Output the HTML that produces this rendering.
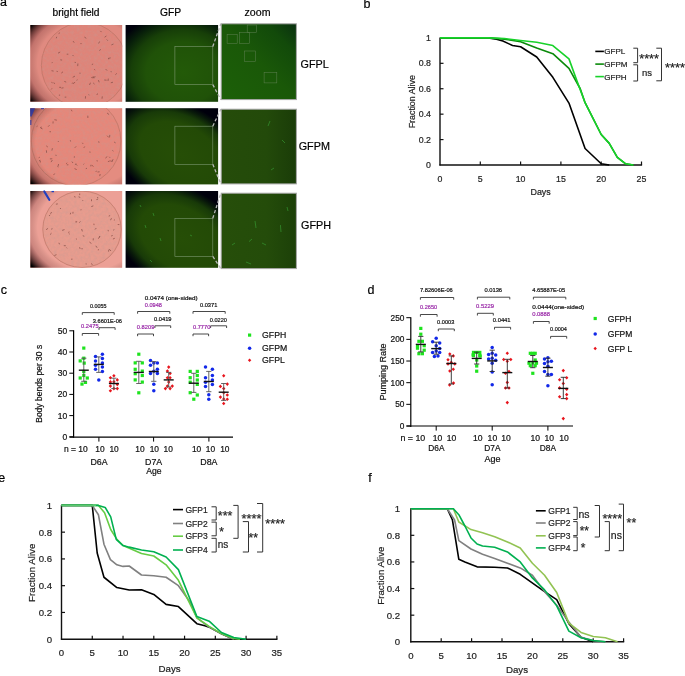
<!DOCTYPE html>
<html><head><meta charset="utf-8"><style>
html,body{margin:0;padding:0;background:#fff;}
svg{display:block;font-family:"Liberation Sans", sans-serif;will-change:transform;}
</style></head><body>
<svg width="685" height="676" viewBox="0 0 685 676">
<defs>
<filter id="tex" x="0" y="0" width="1" height="1"><feTurbulence type="fractalNoise" baseFrequency="0.35" numOctaves="2" seed="3"/><feColorMatrix type="matrix" values="0 0 0 0 0.55  0 0 0 0 0.33  0 0 0 0 0.3  0 0 0 1.4 -0.5"/><feComposite in2="SourceGraphic" operator="in"/></filter>
<radialGradient id="bfv0" cx="0.64" cy="0.5" r="0.8">
 <stop offset="0.7" stop-color="#000" stop-opacity="0"/><stop offset="0.82" stop-color="#400c14" stop-opacity="0.18"/><stop offset="0.92" stop-color="#200608" stop-opacity="0.62"/><stop offset="1" stop-color="#000" stop-opacity="1"/>
</radialGradient>
<radialGradient id="bfv1" cx="0.62" cy="0.46" r="0.8">
 <stop offset="0.7" stop-color="#000" stop-opacity="0"/><stop offset="0.82" stop-color="#400c14" stop-opacity="0.18"/><stop offset="0.92" stop-color="#200608" stop-opacity="0.62"/><stop offset="1" stop-color="#000" stop-opacity="1"/>
</radialGradient>
<radialGradient id="bfv2" cx="0.64" cy="0.47" r="0.8">
 <stop offset="0.7" stop-color="#000" stop-opacity="0"/><stop offset="0.82" stop-color="#400c14" stop-opacity="0.18"/><stop offset="0.92" stop-color="#200608" stop-opacity="0.62"/><stop offset="1" stop-color="#000" stop-opacity="1"/>
</radialGradient>
<radialGradient id="gfp0" cx="0.62" cy="0.62" r="0.8">
 <stop offset="0" stop-color="#235a08"/><stop offset="0.5" stop-color="#205208"/><stop offset="0.7" stop-color="#173f08"/><stop offset="0.85" stop-color="#08200a"/><stop offset="1" stop-color="#00000c"/>
</radialGradient>
<radialGradient id="gfp1" cx="0" cy="0" r="1" gradientTransform="translate(0.6 0.62) rotate(45) scale(0.86 0.6)">
 <stop offset="0" stop-color="#264e06"/><stop offset="0.6" stop-color="#234a06"/><stop offset="0.78" stop-color="#183a08"/><stop offset="0.9" stop-color="#08180a"/><stop offset="1" stop-color="#00000c"/>
</radialGradient>
<radialGradient id="gfp2" cx="0" cy="0" r="1" gradientTransform="translate(0.6 0.62) rotate(45) scale(0.86 0.6)">
 <stop offset="0" stop-color="#264e06"/><stop offset="0.6" stop-color="#234a06"/><stop offset="0.78" stop-color="#183a08"/><stop offset="0.9" stop-color="#08180a"/><stop offset="1" stop-color="#00000c"/>
</radialGradient>
<linearGradient id="zm0" x1="0" y1="1" x2="1" y2="0">
 <stop offset="0" stop-color="#1c6008"/><stop offset="0.5" stop-color="#1a5808"/><stop offset="0.8" stop-color="#124a0a"/><stop offset="1" stop-color="#0a3010"/>
</linearGradient>
<linearGradient id="zm1" x1="0" y1="0.5" x2="1" y2="0.5">
 <stop offset="0" stop-color="#254c0a"/><stop offset="0.6" stop-color="#234a0a"/><stop offset="1" stop-color="#1a3c08"/>
</linearGradient>
<linearGradient id="zm2" x1="0" y1="0.5" x2="1" y2="0.5">
 <stop offset="0" stop-color="#264e0a"/><stop offset="0.6" stop-color="#244c0a"/><stop offset="1" stop-color="#1c4008"/>
</linearGradient>
</defs>
<text x="3.40" y="6.47" font-size="12.5" text-anchor="middle" fill="#000" stroke="#000" stroke-width="0.2" >a</text>
<text x="76.00" y="16.20" font-size="10.2" text-anchor="middle" fill="#000" stroke="#000" stroke-width="0.2" >bright field</text>
<text x="170.50" y="16.40" font-size="10.3" text-anchor="middle" fill="#000" stroke="#000" stroke-width="0.2" >GFP</text>
<text x="257.50" y="16.40" font-size="10.6" text-anchor="middle" fill="#000" stroke="#000" stroke-width="0.2" >zoom</text>
<rect x="30.2" y="25" width="92" height="76.80" fill="#e08a80"/>
<clipPath id="cbf0"><rect x="30.2" y="25" width="92" height="76.80"/></clipPath>
<g clip-path="url(#cbf0)">
<ellipse cx="84.4" cy="65.3" rx="43" ry="43" fill="#df8479" stroke="#b87060" stroke-width="0.9" stroke-opacity="0.7"/>
<ellipse cx="84.4" cy="65.3" rx="43" ry="43" fill="#f09a8c" filter="url(#tex)" opacity="0.5"/>
<line x1="77.3" y1="79.5" x2="76.8" y2="80.5" stroke="#8a5048" stroke-width="1.0" opacity="0.75"/>
<line x1="60.3" y1="59.8" x2="62.1" y2="60.1" stroke="#8a5048" stroke-width="1.0" opacity="0.75"/>
<line x1="110.6" y1="71.6" x2="111.7" y2="71.8" stroke="#8a5048" stroke-width="1.0" opacity="0.75"/>
<line x1="51.4" y1="82.3" x2="52.6" y2="82.8" stroke="#8a5048" stroke-width="1.0" opacity="0.75"/>
<line x1="56.7" y1="36.8" x2="56.3" y2="38.3" stroke="#8a5048" stroke-width="1.0" opacity="0.75"/>
<line x1="93.1" y1="64.0" x2="91.8" y2="64.6" stroke="#8a5048" stroke-width="1.0" opacity="0.75"/>
<line x1="93.0" y1="76.3" x2="94.3" y2="78.2" stroke="#8a5048" stroke-width="1.0" opacity="0.75"/>
<line x1="97.5" y1="93.5" x2="96.9" y2="95.0" stroke="#8a5048" stroke-width="1.0" opacity="0.75"/>
<line x1="74.6" y1="62.3" x2="75.9" y2="62.5" stroke="#8a5048" stroke-width="1.0" opacity="0.75"/>
<line x1="73.1" y1="41.1" x2="74.2" y2="42.7" stroke="#8a5048" stroke-width="1.0" opacity="0.75"/>
<line x1="63.0" y1="71.8" x2="61.3" y2="73.1" stroke="#8a5048" stroke-width="1.0" opacity="0.75"/>
<line x1="85.5" y1="96.2" x2="85.4" y2="98.6" stroke="#8a5048" stroke-width="1.0" opacity="0.75"/>
<line x1="81.6" y1="43.6" x2="80.4" y2="43.6" stroke="#8a5048" stroke-width="1.0" opacity="0.75"/>
<line x1="53.5" y1="82.8" x2="55.0" y2="83.6" stroke="#8a5048" stroke-width="1.0" opacity="0.75"/>
<line x1="116.8" y1="73.4" x2="115.4" y2="74.7" stroke="#8a5048" stroke-width="1.0" opacity="0.75"/>
<line x1="100.6" y1="49.2" x2="99.5" y2="50.8" stroke="#8a5048" stroke-width="1.0" opacity="0.75"/>
<line x1="60.2" y1="52.0" x2="58.0" y2="53.2" stroke="#8a5048" stroke-width="1.0" opacity="0.75"/>
<line x1="51.5" y1="70.7" x2="53.6" y2="71.1" stroke="#8a5048" stroke-width="1.0" opacity="0.75"/>
<line x1="59.9" y1="32.8" x2="58.6" y2="33.6" stroke="#8a5048" stroke-width="1.0" opacity="0.75"/>
<line x1="59.2" y1="87.3" x2="61.0" y2="87.4" stroke="#8a5048" stroke-width="1.0" opacity="0.75"/>
<line x1="91.3" y1="77.5" x2="93.5" y2="77.9" stroke="#8a5048" stroke-width="1.0" opacity="0.75"/>
<line x1="98.4" y1="80.1" x2="99.2" y2="82.3" stroke="#8a5048" stroke-width="1.0" opacity="0.75"/>
<line x1="108.3" y1="78.6" x2="108.0" y2="81.0" stroke="#8a5048" stroke-width="1.0" opacity="0.75"/>
<line x1="100.4" y1="30.9" x2="101.5" y2="32.1" stroke="#8a5048" stroke-width="1.0" opacity="0.75"/>
<line x1="60.1" y1="95.1" x2="58.9" y2="95.2" stroke="#8a5048" stroke-width="1.0" opacity="0.75"/>
<line x1="93.2" y1="82.9" x2="94.5" y2="84.1" stroke="#8a5048" stroke-width="1.0" opacity="0.75"/>
<line x1="66.7" y1="54.2" x2="68.3" y2="54.2" stroke="#8a5048" stroke-width="1.0" opacity="0.75"/>
<line x1="63.5" y1="87.8" x2="61.4" y2="88.1" stroke="#8a5048" stroke-width="1.0" opacity="0.75"/>
<line x1="52.4" y1="62.2" x2="51.9" y2="63.1" stroke="#8a5048" stroke-width="1.0" opacity="0.75"/>
<line x1="113.5" y1="44.0" x2="111.4" y2="44.9" stroke="#8a5048" stroke-width="1.0" opacity="0.75"/>
<line x1="64.3" y1="81.4" x2="66.2" y2="82.1" stroke="#8a5048" stroke-width="1.0" opacity="0.75"/>
<line x1="94.2" y1="69.3" x2="95.2" y2="70.1" stroke="#8a5048" stroke-width="1.0" opacity="0.75"/>
<line x1="79.4" y1="73.2" x2="80.6" y2="73.2" stroke="#8a5048" stroke-width="1.0" opacity="0.75"/>
<line x1="104.2" y1="80.0" x2="106.6" y2="80.2" stroke="#8a5048" stroke-width="1.0" opacity="0.75"/>
<line x1="72.5" y1="55.0" x2="73.6" y2="56.1" stroke="#8a5048" stroke-width="1.0" opacity="0.75"/>
<line x1="75.0" y1="76.1" x2="72.7" y2="77.3" stroke="#8a5048" stroke-width="1.0" opacity="0.75"/>
<line x1="56.6" y1="71.3" x2="57.8" y2="71.6" stroke="#8a5048" stroke-width="1.0" opacity="0.75"/>
<line x1="72.8" y1="82.9" x2="71.8" y2="83.5" stroke="#8a5048" stroke-width="1.0" opacity="0.75"/>
<line x1="123.8" y1="71.1" x2="123.7" y2="72.3" stroke="#8a5048" stroke-width="1.0" opacity="0.75"/>
<line x1="77.9" y1="63.5" x2="77.7" y2="66.1" stroke="#8a5048" stroke-width="1.0" opacity="0.75"/>
<line x1="106.7" y1="39.5" x2="107.8" y2="40.7" stroke="#8a5048" stroke-width="1.0" opacity="0.75"/>
<line x1="102.3" y1="96.4" x2="102.0" y2="98.7" stroke="#8a5048" stroke-width="1.0" opacity="0.75"/>
<line x1="75.1" y1="82.2" x2="73.0" y2="83.7" stroke="#8a5048" stroke-width="1.0" opacity="0.75"/>
<line x1="106.4" y1="36.0" x2="104.6" y2="37.2" stroke="#8a5048" stroke-width="1.0" opacity="0.75"/>
<line x1="88.7" y1="94.4" x2="89.1" y2="95.3" stroke="#8a5048" stroke-width="1.0" opacity="0.75"/>
<line x1="105.7" y1="69.1" x2="107.1" y2="70.6" stroke="#8a5048" stroke-width="1.0" opacity="0.75"/>
<line x1="110.7" y1="57.9" x2="108.2" y2="58.4" stroke="#8a5048" stroke-width="1.0" opacity="0.75"/>
<line x1="108.1" y1="58.4" x2="109.1" y2="59.3" stroke="#8a5048" stroke-width="1.0" opacity="0.75"/>
<line x1="90.5" y1="82.7" x2="89.5" y2="85.0" stroke="#8a5048" stroke-width="1.0" opacity="0.75"/>
<line x1="99.6" y1="41.5" x2="98.6" y2="43.5" stroke="#8a5048" stroke-width="1.0" opacity="0.75"/>
<line x1="113.0" y1="82.2" x2="110.8" y2="82.8" stroke="#8a5048" stroke-width="1.0" opacity="0.75"/>
<line x1="84.4" y1="37.1" x2="86.3" y2="38.3" stroke="#8a5048" stroke-width="1.0" opacity="0.75"/>
<line x1="66.3" y1="97.1" x2="64.7" y2="97.2" stroke="#8a5048" stroke-width="1.0" opacity="0.75"/>
<line x1="52.0" y1="88.4" x2="51.2" y2="89.4" stroke="#8a5048" stroke-width="1.0" opacity="0.75"/>
<line x1="95.5" y1="76.7" x2="93.3" y2="77.3" stroke="#8a5048" stroke-width="1.0" opacity="0.75"/>
<rect x="30.2" y="25" width="92" height="76.80" fill="url(#bfv0)"/>
</g>
<rect x="125.6" y="25" width="92.5" height="76.80" fill="url(#gfp0)"/>
<rect x="174.9" y="46.50" width="37.9" height="38.10" fill="none" stroke="#7c9870" stroke-width="0.6"/>
<line x1="212.8" y1="46.50" x2="220.8" y2="23.80" stroke="#b8b8b8" stroke-width="1.3" stroke-dasharray="3.2,2.2"/>
<line x1="212.8" y1="84.60" x2="220.8" y2="99.60" stroke="#b8b8b8" stroke-width="1.3" stroke-dasharray="3.2,2.2"/>
<rect x="221.2" y="23.80" width="75.2" height="75.80" fill="url(#zm0)" stroke="#a8a8a8" stroke-width="1"/>
<text x="314.70" y="68.47" font-size="10.8" text-anchor="middle" fill="#000" stroke="#000" stroke-width="0.2" >GFPL</text>
<rect x="30.2" y="108.2" width="92" height="76.20" fill="#e48c80"/>
<clipPath id="cbf1"><rect x="30.2" y="108.2" width="92" height="76.20"/></clipPath>
<g clip-path="url(#cbf1)">
<ellipse cx="76.1" cy="141.1" rx="44.8" ry="44.8" fill="#e6877a" stroke="#b87060" stroke-width="0.9" stroke-opacity="0.7"/>
<ellipse cx="76.1" cy="141.1" rx="44.8" ry="44.8" fill="#f09a8c" filter="url(#tex)" opacity="0.5"/>
<line x1="99.6" y1="171.8" x2="97.5" y2="172.0" stroke="#8a5048" stroke-width="1.0" opacity="0.75"/>
<line x1="57.5" y1="166.6" x2="58.4" y2="167.0" stroke="#8a5048" stroke-width="1.0" opacity="0.75"/>
<line x1="109.8" y1="134.9" x2="109.6" y2="137.3" stroke="#8a5048" stroke-width="1.0" opacity="0.75"/>
<line x1="39.8" y1="157.2" x2="38.6" y2="157.8" stroke="#8a5048" stroke-width="1.0" opacity="0.75"/>
<line x1="75.8" y1="164.1" x2="77.2" y2="165.5" stroke="#8a5048" stroke-width="1.0" opacity="0.75"/>
<line x1="74.5" y1="168.6" x2="76.7" y2="169.6" stroke="#8a5048" stroke-width="1.0" opacity="0.75"/>
<line x1="58.6" y1="164.0" x2="58.0" y2="166.4" stroke="#8a5048" stroke-width="1.0" opacity="0.75"/>
<line x1="40.3" y1="160.6" x2="40.3" y2="162.5" stroke="#8a5048" stroke-width="1.0" opacity="0.75"/>
<line x1="70.3" y1="140.2" x2="70.6" y2="141.5" stroke="#8a5048" stroke-width="1.0" opacity="0.75"/>
<line x1="114.1" y1="142.0" x2="115.6" y2="142.9" stroke="#8a5048" stroke-width="1.0" opacity="0.75"/>
<line x1="71.2" y1="109.7" x2="72.1" y2="111.3" stroke="#8a5048" stroke-width="1.0" opacity="0.75"/>
<line x1="40.7" y1="128.2" x2="42.5" y2="128.9" stroke="#8a5048" stroke-width="1.0" opacity="0.75"/>
<line x1="76.3" y1="163.5" x2="74.9" y2="164.7" stroke="#8a5048" stroke-width="1.0" opacity="0.75"/>
<line x1="41.8" y1="127.1" x2="40.1" y2="127.5" stroke="#8a5048" stroke-width="1.0" opacity="0.75"/>
<line x1="53.1" y1="121.4" x2="53.0" y2="123.5" stroke="#8a5048" stroke-width="1.0" opacity="0.75"/>
<line x1="46.4" y1="150.3" x2="46.6" y2="152.8" stroke="#8a5048" stroke-width="1.0" opacity="0.75"/>
<line x1="63.6" y1="103.3" x2="62.2" y2="103.5" stroke="#8a5048" stroke-width="1.0" opacity="0.75"/>
<line x1="37.6" y1="126.0" x2="36.6" y2="126.6" stroke="#8a5048" stroke-width="1.0" opacity="0.75"/>
<line x1="96.5" y1="160.7" x2="97.9" y2="161.0" stroke="#8a5048" stroke-width="1.0" opacity="0.75"/>
<line x1="107.3" y1="156.5" x2="105.4" y2="158.1" stroke="#8a5048" stroke-width="1.0" opacity="0.75"/>
<line x1="96.4" y1="170.8" x2="95.9" y2="171.9" stroke="#8a5048" stroke-width="1.0" opacity="0.75"/>
<line x1="107.1" y1="113.0" x2="109.1" y2="114.6" stroke="#8a5048" stroke-width="1.0" opacity="0.75"/>
<line x1="52.3" y1="158.8" x2="49.9" y2="158.9" stroke="#8a5048" stroke-width="1.0" opacity="0.75"/>
<line x1="90.9" y1="164.8" x2="90.8" y2="166.4" stroke="#8a5048" stroke-width="1.0" opacity="0.75"/>
<line x1="84.1" y1="163.7" x2="83.5" y2="164.5" stroke="#8a5048" stroke-width="1.0" opacity="0.75"/>
<line x1="49.5" y1="131.7" x2="51.0" y2="131.8" stroke="#8a5048" stroke-width="1.0" opacity="0.75"/>
<line x1="54.4" y1="119.7" x2="56.9" y2="120.2" stroke="#8a5048" stroke-width="1.0" opacity="0.75"/>
<line x1="86.1" y1="100.4" x2="87.5" y2="100.8" stroke="#8a5048" stroke-width="1.0" opacity="0.75"/>
<line x1="112.5" y1="150.3" x2="113.3" y2="151.3" stroke="#8a5048" stroke-width="1.0" opacity="0.75"/>
<line x1="40.2" y1="160.2" x2="39.0" y2="160.9" stroke="#8a5048" stroke-width="1.0" opacity="0.75"/>
<line x1="100.2" y1="174.0" x2="99.7" y2="176.1" stroke="#8a5048" stroke-width="1.0" opacity="0.75"/>
<line x1="84.7" y1="146.5" x2="83.8" y2="147.9" stroke="#8a5048" stroke-width="1.0" opacity="0.75"/>
<line x1="113.1" y1="159.2" x2="112.2" y2="161.3" stroke="#8a5048" stroke-width="1.0" opacity="0.75"/>
<line x1="110.2" y1="160.9" x2="112.5" y2="161.4" stroke="#8a5048" stroke-width="1.0" opacity="0.75"/>
<line x1="52.4" y1="148.2" x2="51.9" y2="150.6" stroke="#8a5048" stroke-width="1.0" opacity="0.75"/>
<line x1="74.4" y1="156.3" x2="74.3" y2="157.7" stroke="#8a5048" stroke-width="1.0" opacity="0.75"/>
<line x1="89.3" y1="152.0" x2="90.6" y2="152.2" stroke="#8a5048" stroke-width="1.0" opacity="0.75"/>
<line x1="67.2" y1="162.8" x2="66.1" y2="163.8" stroke="#8a5048" stroke-width="1.0" opacity="0.75"/>
<line x1="58.1" y1="141.1" x2="58.6" y2="142.0" stroke="#8a5048" stroke-width="1.0" opacity="0.75"/>
<line x1="76.1" y1="146.4" x2="74.8" y2="147.8" stroke="#8a5048" stroke-width="1.0" opacity="0.75"/>
<line x1="87.0" y1="168.3" x2="85.8" y2="168.6" stroke="#8a5048" stroke-width="1.0" opacity="0.75"/>
<line x1="87.8" y1="115.7" x2="87.9" y2="118.0" stroke="#8a5048" stroke-width="1.0" opacity="0.75"/>
<line x1="52.4" y1="160.0" x2="51.0" y2="162.1" stroke="#8a5048" stroke-width="1.0" opacity="0.75"/>
<line x1="54.7" y1="173.5" x2="53.5" y2="175.1" stroke="#8a5048" stroke-width="1.0" opacity="0.75"/>
<line x1="55.4" y1="155.2" x2="56.6" y2="155.4" stroke="#8a5048" stroke-width="1.0" opacity="0.75"/>
<line x1="109.2" y1="156.8" x2="110.1" y2="157.8" stroke="#8a5048" stroke-width="1.0" opacity="0.75"/>
<line x1="109.8" y1="160.9" x2="107.9" y2="161.7" stroke="#8a5048" stroke-width="1.0" opacity="0.75"/>
<line x1="71.9" y1="161.6" x2="73.0" y2="163.0" stroke="#8a5048" stroke-width="1.0" opacity="0.75"/>
<line x1="91.7" y1="164.9" x2="93.4" y2="166.7" stroke="#8a5048" stroke-width="1.0" opacity="0.75"/>
<line x1="107.1" y1="135.7" x2="108.9" y2="137.5" stroke="#8a5048" stroke-width="1.0" opacity="0.75"/>
<line x1="66.8" y1="164.8" x2="68.4" y2="164.8" stroke="#8a5048" stroke-width="1.0" opacity="0.75"/>
<line x1="46.3" y1="145.9" x2="47.8" y2="147.0" stroke="#8a5048" stroke-width="1.0" opacity="0.75"/>
<line x1="98.0" y1="141.8" x2="99.5" y2="142.2" stroke="#8a5048" stroke-width="1.0" opacity="0.75"/>
<line x1="82.3" y1="142.8" x2="83.1" y2="143.9" stroke="#8a5048" stroke-width="1.0" opacity="0.75"/>
<line x1="49.5" y1="125.2" x2="48.1" y2="126.7" stroke="#8a5048" stroke-width="1.0" opacity="0.75"/>
<rect x="30.2" y="108.2" width="92" height="76.20" fill="url(#bfv1)"/>
</g>
<rect x="125.6" y="108.2" width="92.5" height="76.20" fill="url(#gfp1)"/>
<rect x="174.9" y="126.20" width="37.9" height="38.10" fill="none" stroke="#7c9870" stroke-width="0.6"/>
<line x1="212.8" y1="126.20" x2="220.8" y2="109.20" stroke="#b8b8b8" stroke-width="1.3" stroke-dasharray="3.2,2.2"/>
<line x1="212.8" y1="164.30" x2="220.8" y2="183.90" stroke="#b8b8b8" stroke-width="1.3" stroke-dasharray="3.2,2.2"/>
<rect x="221.2" y="109.20" width="75.2" height="74.70" fill="url(#zm1)" stroke="#a8a8a8" stroke-width="1"/>
<text x="314.30" y="150.07" font-size="10.8" text-anchor="middle" fill="#000" stroke="#000" stroke-width="0.2" >GFPM</text>
<rect x="30.2" y="191.0" width="92" height="76.80" fill="#eca096"/>
<clipPath id="cbf2"><rect x="30.2" y="191.0" width="92" height="76.80"/></clipPath>
<g clip-path="url(#cbf2)">
<ellipse cx="82" cy="229.3" rx="39.2" ry="38.2" fill="#e89c8e" stroke="#b87060" stroke-width="0.9" stroke-opacity="0.7"/>
<ellipse cx="82" cy="229.3" rx="39.2" ry="38.2" fill="#f09a8c" filter="url(#tex)" opacity="0.5"/>
<line x1="74.6" y1="196.0" x2="75.1" y2="197.5" stroke="#8a5048" stroke-width="1.0" opacity="0.75"/>
<line x1="96.3" y1="228.0" x2="95.0" y2="229.5" stroke="#8a5048" stroke-width="1.0" opacity="0.75"/>
<line x1="114.8" y1="238.3" x2="112.9" y2="239.0" stroke="#8a5048" stroke-width="1.0" opacity="0.75"/>
<line x1="78.6" y1="196.8" x2="80.3" y2="197.5" stroke="#8a5048" stroke-width="1.0" opacity="0.75"/>
<line x1="48.0" y1="228.4" x2="46.1" y2="229.7" stroke="#8a5048" stroke-width="1.0" opacity="0.75"/>
<line x1="51.6" y1="212.0" x2="50.5" y2="213.8" stroke="#8a5048" stroke-width="1.0" opacity="0.75"/>
<line x1="82.8" y1="235.7" x2="84.3" y2="236.3" stroke="#8a5048" stroke-width="1.0" opacity="0.75"/>
<line x1="108.9" y1="249.6" x2="108.5" y2="251.6" stroke="#8a5048" stroke-width="1.0" opacity="0.75"/>
<line x1="60.4" y1="208.0" x2="60.5" y2="209.0" stroke="#8a5048" stroke-width="1.0" opacity="0.75"/>
<line x1="91.5" y1="199.3" x2="91.5" y2="201.2" stroke="#8a5048" stroke-width="1.0" opacity="0.75"/>
<line x1="76.8" y1="221.4" x2="75.9" y2="222.5" stroke="#8a5048" stroke-width="1.0" opacity="0.75"/>
<line x1="99.1" y1="237.7" x2="98.3" y2="238.7" stroke="#8a5048" stroke-width="1.0" opacity="0.75"/>
<line x1="79.7" y1="193.5" x2="79.7" y2="195.1" stroke="#8a5048" stroke-width="1.0" opacity="0.75"/>
<line x1="51.5" y1="233.2" x2="50.0" y2="234.6" stroke="#8a5048" stroke-width="1.0" opacity="0.75"/>
<line x1="75.5" y1="221.4" x2="76.8" y2="222.0" stroke="#8a5048" stroke-width="1.0" opacity="0.75"/>
<line x1="81.1" y1="209.3" x2="80.9" y2="210.3" stroke="#8a5048" stroke-width="1.0" opacity="0.75"/>
<line x1="99.9" y1="236.3" x2="98.8" y2="238.1" stroke="#8a5048" stroke-width="1.0" opacity="0.75"/>
<line x1="73.0" y1="211.8" x2="72.9" y2="213.6" stroke="#8a5048" stroke-width="1.0" opacity="0.75"/>
<line x1="69.5" y1="231.9" x2="68.2" y2="232.4" stroke="#8a5048" stroke-width="1.0" opacity="0.75"/>
<line x1="117.7" y1="224.5" x2="119.4" y2="224.6" stroke="#8a5048" stroke-width="1.0" opacity="0.75"/>
<line x1="97.6" y1="197.0" x2="97.8" y2="198.4" stroke="#8a5048" stroke-width="1.0" opacity="0.75"/>
<line x1="91.0" y1="263.5" x2="92.6" y2="264.7" stroke="#8a5048" stroke-width="1.0" opacity="0.75"/>
<line x1="99.0" y1="249.7" x2="97.8" y2="249.9" stroke="#8a5048" stroke-width="1.0" opacity="0.75"/>
<line x1="93.3" y1="205.9" x2="91.3" y2="206.6" stroke="#8a5048" stroke-width="1.0" opacity="0.75"/>
<line x1="86.1" y1="263.4" x2="86.2" y2="264.5" stroke="#8a5048" stroke-width="1.0" opacity="0.75"/>
<line x1="108.1" y1="229.9" x2="108.3" y2="231.3" stroke="#8a5048" stroke-width="1.0" opacity="0.75"/>
<line x1="95.8" y1="245.8" x2="97.1" y2="247.7" stroke="#8a5048" stroke-width="1.0" opacity="0.75"/>
<line x1="114.3" y1="229.6" x2="113.2" y2="230.2" stroke="#8a5048" stroke-width="1.0" opacity="0.75"/>
<line x1="110.1" y1="215.6" x2="108.7" y2="216.1" stroke="#8a5048" stroke-width="1.0" opacity="0.75"/>
<line x1="65.8" y1="245.7" x2="63.8" y2="245.7" stroke="#8a5048" stroke-width="1.0" opacity="0.75"/>
<line x1="66.4" y1="247.5" x2="67.1" y2="248.3" stroke="#8a5048" stroke-width="1.0" opacity="0.75"/>
<line x1="109.3" y1="249.1" x2="110.9" y2="251.0" stroke="#8a5048" stroke-width="1.0" opacity="0.75"/>
<line x1="82.1" y1="248.0" x2="82.0" y2="249.3" stroke="#8a5048" stroke-width="1.0" opacity="0.75"/>
<line x1="56.5" y1="254.7" x2="54.4" y2="255.5" stroke="#8a5048" stroke-width="1.0" opacity="0.75"/>
<line x1="57.8" y1="203.9" x2="55.9" y2="204.2" stroke="#8a5048" stroke-width="1.0" opacity="0.75"/>
<line x1="80.4" y1="221.4" x2="79.3" y2="222.7" stroke="#8a5048" stroke-width="1.0" opacity="0.75"/>
<line x1="82.5" y1="200.2" x2="83.2" y2="201.0" stroke="#8a5048" stroke-width="1.0" opacity="0.75"/>
<line x1="93.9" y1="223.6" x2="94.0" y2="225.1" stroke="#8a5048" stroke-width="1.0" opacity="0.75"/>
<line x1="72.5" y1="259.1" x2="71.1" y2="259.2" stroke="#8a5048" stroke-width="1.0" opacity="0.75"/>
<line x1="70.6" y1="212.8" x2="70.3" y2="214.4" stroke="#8a5048" stroke-width="1.0" opacity="0.75"/>
<line x1="89.4" y1="242.0" x2="91.4" y2="243.5" stroke="#8a5048" stroke-width="1.0" opacity="0.75"/>
<line x1="64.5" y1="229.6" x2="62.1" y2="230.4" stroke="#8a5048" stroke-width="1.0" opacity="0.75"/>
<line x1="68.8" y1="233.5" x2="69.7" y2="234.1" stroke="#8a5048" stroke-width="1.0" opacity="0.75"/>
<line x1="75.9" y1="238.5" x2="76.9" y2="239.4" stroke="#8a5048" stroke-width="1.0" opacity="0.75"/>
<line x1="50.2" y1="214.8" x2="49.1" y2="216.0" stroke="#8a5048" stroke-width="1.0" opacity="0.75"/>
<line x1="58.9" y1="242.8" x2="59.5" y2="244.3" stroke="#8a5048" stroke-width="1.0" opacity="0.75"/>
<line x1="100.1" y1="236.6" x2="99.0" y2="236.7" stroke="#8a5048" stroke-width="1.0" opacity="0.75"/>
<line x1="52.5" y1="228.7" x2="51.2" y2="229.2" stroke="#8a5048" stroke-width="1.0" opacity="0.75"/>
<line x1="79.6" y1="247.2" x2="80.1" y2="248.9" stroke="#8a5048" stroke-width="1.0" opacity="0.75"/>
<line x1="114.9" y1="219.8" x2="113.9" y2="220.2" stroke="#8a5048" stroke-width="1.0" opacity="0.75"/>
<line x1="112.7" y1="235.5" x2="111.1" y2="236.0" stroke="#8a5048" stroke-width="1.0" opacity="0.75"/>
<line x1="81.6" y1="229.0" x2="82.4" y2="231.4" stroke="#8a5048" stroke-width="1.0" opacity="0.75"/>
<line x1="97.8" y1="199.4" x2="96.4" y2="199.6" stroke="#8a5048" stroke-width="1.0" opacity="0.75"/>
<line x1="93.3" y1="238.3" x2="93.2" y2="240.4" stroke="#8a5048" stroke-width="1.0" opacity="0.75"/>
<line x1="111.5" y1="218.2" x2="110.5" y2="220.2" stroke="#8a5048" stroke-width="1.0" opacity="0.75"/>
<rect x="30.2" y="191.0" width="92" height="76.80" fill="url(#bfv2)"/>
</g>
<rect x="125.6" y="191.0" width="92.5" height="76.80" fill="url(#gfp2)"/>
<rect x="174.9" y="218.30" width="37.9" height="38.10" fill="none" stroke="#7c9870" stroke-width="0.6"/>
<line x1="212.8" y1="218.30" x2="220.8" y2="193.20" stroke="#b8b8b8" stroke-width="1.3" stroke-dasharray="3.2,2.2"/>
<line x1="212.8" y1="256.40" x2="220.8" y2="268.60" stroke="#b8b8b8" stroke-width="1.3" stroke-dasharray="3.2,2.2"/>
<rect x="221.2" y="193.20" width="75.2" height="75.40" fill="url(#zm2)" stroke="#a8a8a8" stroke-width="1"/>
<text x="316.00" y="228.77" font-size="10.8" text-anchor="middle" fill="#000" stroke="#000" stroke-width="0.2" >GFPH</text>
<path d="M30.2,108.2 L35,108.2 L33.5,112 L31.5,116.5 L30.2,116.5 Z" fill="#2a3aa8" opacity="0.85"/>
<line x1="30.8" y1="120" x2="30.8" y2="125" stroke="#2a3aa8" stroke-width="1.2" opacity="0.8"/>
<line x1="41" y1="108.6" x2="44" y2="108.6" stroke="#2a3aa8" stroke-width="1.2" opacity="0.8"/>
<line x1="44.3" y1="191.5" x2="49.3" y2="199.8" stroke="#2040c0" stroke-width="2.2" stroke-linecap="round"/>
<line x1="51.5" y1="191.6" x2="54" y2="191.6" stroke="#2040c0" stroke-width="1.3"/>
<rect x="227.1" y="34.4" width="10.1" height="9.3" fill="none" stroke="#5a7e4c" stroke-width="0.55"/>
<rect x="239.3" y="32.7" width="10.3" height="11.0" fill="none" stroke="#5a7e4c" stroke-width="0.55"/>
<rect x="247.2" y="25" width="9.5" height="7.3" fill="none" stroke="#5a7e4c" stroke-width="0.55"/>
<rect x="244.3" y="51" width="11.4" height="10.6" fill="none" stroke="#5a7e4c" stroke-width="0.55"/>
<rect x="264.1" y="72.7" width="12.7" height="10.2" fill="none" stroke="#5a7e4c" stroke-width="0.55"/>
<line x1="255" y1="221" x2="256" y2="228" stroke="#3aa83a" stroke-width="0.8" opacity="0.7"/>
<line x1="280.4" y1="225" x2="281" y2="232" stroke="#3aa83a" stroke-width="0.8" opacity="0.7"/>
<line x1="249" y1="241.6" x2="252" y2="239" stroke="#3aa83a" stroke-width="0.8" opacity="0.7"/>
<line x1="246" y1="262" x2="251" y2="264" stroke="#3aa83a" stroke-width="0.8" opacity="0.7"/>
<line x1="262" y1="243" x2="266" y2="245" stroke="#3aa83a" stroke-width="0.8" opacity="0.7"/>
<line x1="232" y1="245" x2="235" y2="243" stroke="#3aa83a" stroke-width="0.8" opacity="0.7"/>
<line x1="287" y1="207" x2="288" y2="211" stroke="#3aa83a" stroke-width="0.8" opacity="0.7"/>
<line x1="268" y1="126" x2="270" y2="121" stroke="#3aa83a" stroke-width="0.8" opacity="0.7"/>
<line x1="282" y1="140" x2="285" y2="143" stroke="#3aa83a" stroke-width="0.8" opacity="0.7"/>
<line x1="271" y1="170" x2="274" y2="168" stroke="#3aa83a" stroke-width="0.8" opacity="0.7"/>
<line x1="153" y1="213" x2="154" y2="216" stroke="#3aa83a" stroke-width="0.8" opacity="0.7"/>
<line x1="145" y1="225" x2="146" y2="228" stroke="#3aa83a" stroke-width="0.8" opacity="0.7"/>
<line x1="160" y1="238" x2="161" y2="241" stroke="#3aa83a" stroke-width="0.8" opacity="0.7"/>
<line x1="150" y1="260" x2="152" y2="262" stroke="#3aa83a" stroke-width="0.8" opacity="0.7"/>
<line x1="190" y1="235" x2="192" y2="236" stroke="#3aa83a" stroke-width="0.8" opacity="0.7"/>
<line x1="140" y1="205" x2="141" y2="207" stroke="#3aa83a" stroke-width="0.8" opacity="0.7"/>
<text x="367.00" y="8.47" font-size="12.5" text-anchor="middle" fill="#000" stroke="#000" stroke-width="0.2" >b</text>
<line x1="440.00" y1="37.40" x2="440.00" y2="165.60" stroke="#111" stroke-width="1.4" />
<line x1="439.40" y1="165.00" x2="642.10" y2="165.00" stroke="#111" stroke-width="1.4" />
<text x="431.00" y="168.15" font-size="8.8" text-anchor="end" fill="#222" stroke="#222" stroke-width="0.2" >0</text>
<line x1="440.00" y1="139.58" x2="443.50" y2="139.58" stroke="#111" stroke-width="1.2" />
<text x="431.00" y="142.73" font-size="8.8" text-anchor="end" fill="#222" stroke="#222" stroke-width="0.2" >0.2</text>
<line x1="440.00" y1="114.16" x2="443.50" y2="114.16" stroke="#111" stroke-width="1.2" />
<text x="431.00" y="117.31" font-size="8.8" text-anchor="end" fill="#222" stroke="#222" stroke-width="0.2" >0.4</text>
<line x1="440.00" y1="88.74" x2="443.50" y2="88.74" stroke="#111" stroke-width="1.2" />
<text x="431.00" y="91.89" font-size="8.8" text-anchor="end" fill="#222" stroke="#222" stroke-width="0.2" >0.6</text>
<line x1="440.00" y1="63.32" x2="443.50" y2="63.32" stroke="#111" stroke-width="1.2" />
<text x="431.00" y="66.47" font-size="8.8" text-anchor="end" fill="#222" stroke="#222" stroke-width="0.2" >0.8</text>
<line x1="440.00" y1="37.90" x2="443.50" y2="37.90" stroke="#111" stroke-width="1.2" />
<text x="431.00" y="41.05" font-size="8.8" text-anchor="end" fill="#222" stroke="#222" stroke-width="0.2" >1</text>
<text x="440.00" y="181.55" font-size="8.8" text-anchor="middle" fill="#222" stroke="#222" stroke-width="0.2" >0</text>
<line x1="480.30" y1="165.00" x2="480.30" y2="161.50" stroke="#111" stroke-width="1.2" />
<text x="480.30" y="181.55" font-size="8.8" text-anchor="middle" fill="#222" stroke="#222" stroke-width="0.2" >5</text>
<line x1="520.60" y1="165.00" x2="520.60" y2="161.50" stroke="#111" stroke-width="1.2" />
<text x="520.60" y="181.55" font-size="8.8" text-anchor="middle" fill="#222" stroke="#222" stroke-width="0.2" >10</text>
<line x1="560.90" y1="165.00" x2="560.90" y2="161.50" stroke="#111" stroke-width="1.2" />
<text x="560.90" y="181.55" font-size="8.8" text-anchor="middle" fill="#222" stroke="#222" stroke-width="0.2" >15</text>
<line x1="601.20" y1="165.00" x2="601.20" y2="161.50" stroke="#111" stroke-width="1.2" />
<text x="601.20" y="181.55" font-size="8.8" text-anchor="middle" fill="#222" stroke="#222" stroke-width="0.2" >20</text>
<line x1="641.50" y1="165.00" x2="641.50" y2="161.50" stroke="#111" stroke-width="1.2" />
<text x="641.50" y="181.55" font-size="8.8" text-anchor="middle" fill="#222" stroke="#222" stroke-width="0.2" >25</text>
<text transform="translate(415.00,101.70) rotate(-90)" font-size="8.9" text-anchor="middle" fill="#222" stroke="#222" stroke-width="0.2">Fraction Alive</text>
<text x="540.60" y="195.29" font-size="8.9" text-anchor="middle" fill="#222" stroke="#222" stroke-width="0.2" >Days</text>
<polyline points="440.00,37.90 488.36,37.90 496.42,39.17 502.87,40.95 508.51,43.62 512.54,45.53 520.60,46.80 536.72,56.97 552.84,77.30 568.96,103.10 585.08,148.48 601.20,163.73 609.26,165.00" fill="none" stroke="#000" stroke-width="1.6" stroke-linejoin="round" />
<polyline points="440.00,37.90 488.36,37.90 504.48,39.17 520.60,41.71 536.72,48.07 552.84,53.66 568.96,68.40 580.24,88.74 585.08,102.72 601.20,134.50 609.26,143.39 617.32,157.37 625.38,163.73 633.44,165.00" fill="none" stroke="#0a8a0a" stroke-width="1.6" stroke-linejoin="round" />
<polyline points="440.00,37.90 488.36,37.90 504.48,38.54 520.60,40.44 536.72,42.22 552.84,45.53 568.96,58.87 577.02,81.11 585.08,102.72 601.20,134.50 609.26,143.39 617.32,157.37 625.38,163.73 633.44,165.00" fill="none" stroke="#18d22a" stroke-width="1.6" stroke-linejoin="round" />
<line x1="595.30" y1="51.40" x2="603.90" y2="51.40" stroke="#000" stroke-width="1.6" />
<text x="604.20" y="54.30" font-size="8.1" text-anchor="start" fill="#222" stroke="#222" stroke-width="0.2" >GFPL</text>
<line x1="595.30" y1="64.10" x2="603.90" y2="64.10" stroke="#0a8a0a" stroke-width="1.6" />
<text x="604.20" y="67.00" font-size="8.1" text-anchor="start" fill="#222" stroke="#222" stroke-width="0.2" >GFPM</text>
<line x1="595.30" y1="76.60" x2="603.90" y2="76.60" stroke="#18d22a" stroke-width="1.6" />
<text x="604.20" y="79.50" font-size="8.1" text-anchor="start" fill="#222" stroke="#222" stroke-width="0.2" >GFPH</text>
<polyline points="633.30,48.20 637.60,48.20 637.60,62.70 633.30,62.70" fill="none" stroke="#333" stroke-width="1"/>
<polyline points="633.30,64.80 637.60,64.80 637.60,81.00 633.30,81.00" fill="none" stroke="#333" stroke-width="1"/>
<text x="639.20" y="62.90" font-size="12" text-anchor="start" fill="#222" stroke="#222" stroke-width="0.2" textLength="19.8" lengthAdjust="spacingAndGlyphs">****</text>
<text x="647.00" y="75.60" font-size="9.5" text-anchor="middle" fill="#222" stroke="#222" stroke-width="0.2" >ns</text>
<polyline points="656.30,48.20 661.50,48.20 661.50,80.80 656.30,80.80" fill="none" stroke="#333" stroke-width="1"/>
<text x="664.90" y="71.70" font-size="12" text-anchor="start" fill="#222" stroke="#222" stroke-width="0.2" textLength="20" lengthAdjust="spacingAndGlyphs">****</text>
<text x="3.90" y="294.48" font-size="12.5" text-anchor="middle" fill="#000" stroke="#000" stroke-width="0.2" >c</text>
<line x1="73.60" y1="330.30" x2="73.60" y2="437.80" stroke="#000" stroke-width="1.2" />
<line x1="69.50" y1="437.20" x2="233.00" y2="437.20" stroke="#000" stroke-width="1.2" />
<line x1="69.30" y1="436.80" x2="73.60" y2="436.80" stroke="#000" stroke-width="1" />
<text x="67.30" y="439.84" font-size="8.5" text-anchor="end" fill="#111" stroke="#111" stroke-width="0.2" >0</text>
<line x1="69.30" y1="415.60" x2="73.60" y2="415.60" stroke="#000" stroke-width="1" />
<text x="67.30" y="418.64" font-size="8.5" text-anchor="end" fill="#111" stroke="#111" stroke-width="0.2" >10</text>
<line x1="69.30" y1="394.40" x2="73.60" y2="394.40" stroke="#000" stroke-width="1" />
<text x="67.30" y="397.44" font-size="8.5" text-anchor="end" fill="#111" stroke="#111" stroke-width="0.2" >20</text>
<line x1="69.30" y1="373.20" x2="73.60" y2="373.20" stroke="#000" stroke-width="1" />
<text x="67.30" y="376.24" font-size="8.5" text-anchor="end" fill="#111" stroke="#111" stroke-width="0.2" >30</text>
<line x1="69.30" y1="352.00" x2="73.60" y2="352.00" stroke="#000" stroke-width="1" />
<text x="67.30" y="355.04" font-size="8.5" text-anchor="end" fill="#111" stroke="#111" stroke-width="0.2" >40</text>
<line x1="69.30" y1="330.80" x2="73.60" y2="330.80" stroke="#000" stroke-width="1" />
<text x="67.30" y="333.84" font-size="8.5" text-anchor="end" fill="#111" stroke="#111" stroke-width="0.2" >50</text>
<line x1="98.90" y1="437.20" x2="98.90" y2="441.60" stroke="#000" stroke-width="1" />
<line x1="153.60" y1="437.20" x2="153.60" y2="441.60" stroke="#000" stroke-width="1" />
<line x1="208.90" y1="437.20" x2="208.90" y2="441.60" stroke="#000" stroke-width="1" />
<text transform="translate(42.3,383.8) rotate(-90)" font-size="8.5" text-anchor="middle" fill="#111" stroke="#111" stroke-width="0.2">Body bends per 30 s</text>
<text x="63.90" y="452.31" font-size="8.4" text-anchor="start" fill="#111" stroke="#111" stroke-width="0.2" textLength="23.80" lengthAdjust="spacingAndGlyphs">n = 10</text>
<text x="99.90" y="452.31" font-size="8.4" text-anchor="middle" fill="#111" stroke="#111" stroke-width="0.2" >10</text>
<text x="114.10" y="452.31" font-size="8.4" text-anchor="middle" fill="#111" stroke="#111" stroke-width="0.2" >10</text>
<text x="140.00" y="452.31" font-size="8.4" text-anchor="middle" fill="#111" stroke="#111" stroke-width="0.2" >10</text>
<text x="154.30" y="452.31" font-size="8.4" text-anchor="middle" fill="#111" stroke="#111" stroke-width="0.2" >10</text>
<text x="168.20" y="452.31" font-size="8.4" text-anchor="middle" fill="#111" stroke="#111" stroke-width="0.2" >10</text>
<text x="196.60" y="452.31" font-size="8.4" text-anchor="middle" fill="#111" stroke="#111" stroke-width="0.2" >10</text>
<text x="210.40" y="452.31" font-size="8.4" text-anchor="middle" fill="#111" stroke="#111" stroke-width="0.2" >10</text>
<text x="224.80" y="452.31" font-size="8.4" text-anchor="middle" fill="#111" stroke="#111" stroke-width="0.2" >10</text>
<text x="99.00" y="464.65" font-size="8.8" text-anchor="middle" fill="#111" stroke="#111" stroke-width="0.2" >D6A</text>
<text x="153.60" y="464.65" font-size="8.8" text-anchor="middle" fill="#111" stroke="#111" stroke-width="0.2" >D7A</text>
<text x="208.90" y="464.65" font-size="8.8" text-anchor="middle" fill="#111" stroke="#111" stroke-width="0.2" >D8A</text>
<text x="154.00" y="474.38" font-size="8.6" text-anchor="middle" fill="#111" stroke="#111" stroke-width="0.2" >Age</text>
<rect x="82.20" y="346.50" width="3.2" height="3.2" fill="#1ee31e"/>
<rect x="82.20" y="356.60" width="3.2" height="3.2" fill="#1ee31e"/>
<rect x="78.60" y="359.30" width="3.2" height="3.2" fill="#1ee31e"/>
<rect x="82.60" y="361.50" width="3.2" height="3.2" fill="#1ee31e"/>
<rect x="82.20" y="369.90" width="3.2" height="3.2" fill="#1ee31e"/>
<rect x="78.60" y="376.40" width="3.2" height="3.2" fill="#1ee31e"/>
<rect x="85.70" y="376.40" width="3.2" height="3.2" fill="#1ee31e"/>
<rect x="82.20" y="373.90" width="3.2" height="3.2" fill="#1ee31e"/>
<rect x="83.90" y="380.80" width="3.2" height="3.2" fill="#1ee31e"/>
<rect x="80.40" y="382.50" width="3.2" height="3.2" fill="#1ee31e"/>
<line x1="83.80" y1="358.20" x2="83.80" y2="381.30" stroke="#555" stroke-width="0.9" />
<line x1="81.20" y1="358.20" x2="86.40" y2="358.20" stroke="#555" stroke-width="0.9" />
<line x1="81.20" y1="381.30" x2="86.40" y2="381.30" stroke="#555" stroke-width="0.9" />
<line x1="78.80" y1="370.20" x2="88.80" y2="370.20" stroke="#111" stroke-width="1.4" />
<circle cx="102.40" cy="354.20" r="1.75" fill="#1228e8"/>
<circle cx="95.50" cy="356.40" r="1.75" fill="#1228e8"/>
<circle cx="102.40" cy="358.60" r="1.75" fill="#1228e8"/>
<circle cx="95.50" cy="360.90" r="1.75" fill="#1228e8"/>
<circle cx="102.40" cy="362.90" r="1.75" fill="#1228e8"/>
<circle cx="95.50" cy="365.30" r="1.75" fill="#1228e8"/>
<circle cx="102.40" cy="367.10" r="1.75" fill="#1228e8"/>
<circle cx="95.50" cy="369.30" r="1.75" fill="#1228e8"/>
<circle cx="102.40" cy="371.50" r="1.75" fill="#1228e8"/>
<circle cx="98.80" cy="379.90" r="1.75" fill="#1228e8"/>
<line x1="98.80" y1="356.90" x2="98.80" y2="372.40" stroke="#555" stroke-width="0.9" />
<line x1="96.20" y1="356.90" x2="101.40" y2="356.90" stroke="#555" stroke-width="0.9" />
<line x1="96.20" y1="372.40" x2="101.40" y2="372.40" stroke="#555" stroke-width="0.9" />
<line x1="93.80" y1="364.40" x2="103.80" y2="364.40" stroke="#111" stroke-width="1.4" />
<path d="M113.90,373.90 L115.60,375.70 L113.90,377.50 L112.20,375.70 Z" fill="#e8141c"/>
<path d="M110.40,375.90 L112.10,377.70 L110.40,379.50 L108.70,377.70 Z" fill="#e8141c"/>
<path d="M117.30,378.10 L119.00,379.90 L117.30,381.70 L115.60,379.90 Z" fill="#e8141c"/>
<path d="M110.40,380.10 L112.10,381.90 L110.40,383.70 L108.70,381.90 Z" fill="#e8141c"/>
<path d="M113.90,379.90 L115.60,381.70 L113.90,383.50 L112.20,381.70 Z" fill="#e8141c"/>
<path d="M117.30,382.60 L119.00,384.40 L117.30,386.20 L115.60,384.40 Z" fill="#e8141c"/>
<path d="M110.40,384.30 L112.10,386.10 L110.40,387.90 L108.70,386.10 Z" fill="#e8141c"/>
<path d="M113.90,386.80 L115.60,388.60 L113.90,390.40 L112.20,388.60 Z" fill="#e8141c"/>
<path d="M117.30,386.80 L119.00,388.60 L117.30,390.40 L115.60,388.60 Z" fill="#e8141c"/>
<path d="M110.40,389.00 L112.10,390.80 L110.40,392.60 L108.70,390.80 Z" fill="#e8141c"/>
<line x1="113.90" y1="378.20" x2="113.90" y2="388.60" stroke="#555" stroke-width="0.9" />
<line x1="111.30" y1="378.20" x2="116.50" y2="378.20" stroke="#555" stroke-width="0.9" />
<line x1="111.30" y1="388.60" x2="116.50" y2="388.60" stroke="#555" stroke-width="0.9" />
<line x1="108.90" y1="383.50" x2="118.90" y2="383.50" stroke="#111" stroke-width="1.4" />
<rect x="137.20" y="352.60" width="3.2" height="3.2" fill="#1ee31e"/>
<rect x="133.60" y="361.30" width="3.2" height="3.2" fill="#1ee31e"/>
<rect x="140.70" y="361.30" width="3.2" height="3.2" fill="#1ee31e"/>
<rect x="133.60" y="367.70" width="3.2" height="3.2" fill="#1ee31e"/>
<rect x="140.70" y="369.50" width="3.2" height="3.2" fill="#1ee31e"/>
<rect x="133.60" y="372.10" width="3.2" height="3.2" fill="#1ee31e"/>
<rect x="140.70" y="373.90" width="3.2" height="3.2" fill="#1ee31e"/>
<rect x="133.60" y="378.30" width="3.2" height="3.2" fill="#1ee31e"/>
<rect x="140.70" y="380.50" width="3.2" height="3.2" fill="#1ee31e"/>
<rect x="137.20" y="391.20" width="3.2" height="3.2" fill="#1ee31e"/>
<line x1="138.80" y1="361.30" x2="138.80" y2="383.50" stroke="#555" stroke-width="0.9" />
<line x1="136.20" y1="361.30" x2="141.40" y2="361.30" stroke="#555" stroke-width="0.9" />
<line x1="136.20" y1="383.50" x2="141.40" y2="383.50" stroke="#555" stroke-width="0.9" />
<line x1="133.80" y1="372.40" x2="143.80" y2="372.40" stroke="#111" stroke-width="1.4" />
<circle cx="150.50" cy="360.40" r="1.75" fill="#1228e8"/>
<circle cx="153.80" cy="363.10" r="1.75" fill="#1228e8"/>
<circle cx="157.40" cy="363.10" r="1.75" fill="#1228e8"/>
<circle cx="150.50" cy="365.30" r="1.75" fill="#1228e8"/>
<circle cx="157.40" cy="369.30" r="1.75" fill="#1228e8"/>
<circle cx="153.80" cy="371.20" r="1.75" fill="#1228e8"/>
<circle cx="150.50" cy="373.50" r="1.75" fill="#1228e8"/>
<circle cx="157.40" cy="373.50" r="1.75" fill="#1228e8"/>
<circle cx="153.80" cy="384.20" r="1.75" fill="#1228e8"/>
<circle cx="153.80" cy="390.80" r="1.75" fill="#1228e8"/>
<line x1="153.80" y1="361.60" x2="153.80" y2="381.30" stroke="#555" stroke-width="0.9" />
<line x1="151.20" y1="361.60" x2="156.40" y2="361.60" stroke="#555" stroke-width="0.9" />
<line x1="151.20" y1="381.30" x2="156.40" y2="381.30" stroke="#555" stroke-width="0.9" />
<line x1="148.80" y1="371.50" x2="158.80" y2="371.50" stroke="#111" stroke-width="1.4" />
<path d="M168.70,365.30 L170.40,367.10 L168.70,368.90 L167.00,367.10 Z" fill="#e8141c"/>
<path d="M167.40,369.30 L169.10,371.10 L167.40,372.90 L165.70,371.10 Z" fill="#e8141c"/>
<path d="M170.10,371.70 L171.80,373.50 L170.10,375.30 L168.40,373.50 Z" fill="#e8141c"/>
<path d="M167.40,375.90 L169.10,377.70 L167.40,379.50 L165.70,377.70 Z" fill="#e8141c"/>
<path d="M170.10,375.90 L171.80,377.70 L170.10,379.50 L168.40,377.70 Z" fill="#e8141c"/>
<path d="M168.70,380.30 L170.40,382.10 L168.70,383.90 L167.00,382.10 Z" fill="#e8141c"/>
<path d="M167.40,384.30 L169.10,386.10 L167.40,387.90 L165.70,386.10 Z" fill="#e8141c"/>
<path d="M172.30,384.30 L174.00,386.10 L172.30,387.90 L170.60,386.10 Z" fill="#e8141c"/>
<path d="M165.40,386.80 L167.10,388.60 L165.40,390.40 L163.70,388.60 Z" fill="#e8141c"/>
<path d="M170.10,386.80 L171.80,388.60 L170.10,390.40 L168.40,388.60 Z" fill="#e8141c"/>
<line x1="168.70" y1="372.40" x2="168.70" y2="387.00" stroke="#555" stroke-width="0.9" />
<line x1="166.10" y1="372.40" x2="171.30" y2="372.40" stroke="#555" stroke-width="0.9" />
<line x1="166.10" y1="387.00" x2="171.30" y2="387.00" stroke="#555" stroke-width="0.9" />
<line x1="163.70" y1="379.90" x2="173.70" y2="379.90" stroke="#111" stroke-width="1.4" />
<rect x="188.60" y="369.80" width="3.2" height="3.2" fill="#1ee31e"/>
<rect x="195.70" y="369.80" width="3.2" height="3.2" fill="#1ee31e"/>
<rect x="195.70" y="373.90" width="3.2" height="3.2" fill="#1ee31e"/>
<rect x="188.60" y="376.10" width="3.2" height="3.2" fill="#1ee31e"/>
<rect x="195.70" y="378.40" width="3.2" height="3.2" fill="#1ee31e"/>
<rect x="188.60" y="380.60" width="3.2" height="3.2" fill="#1ee31e"/>
<rect x="195.70" y="382.80" width="3.2" height="3.2" fill="#1ee31e"/>
<rect x="188.60" y="391.10" width="3.2" height="3.2" fill="#1ee31e"/>
<rect x="195.70" y="393.40" width="3.2" height="3.2" fill="#1ee31e"/>
<rect x="192.20" y="397.60" width="3.2" height="3.2" fill="#1ee31e"/>
<line x1="193.80" y1="373.30" x2="193.80" y2="392.40" stroke="#555" stroke-width="0.9" />
<line x1="191.20" y1="373.30" x2="196.40" y2="373.30" stroke="#555" stroke-width="0.9" />
<line x1="191.20" y1="392.40" x2="196.40" y2="392.40" stroke="#555" stroke-width="0.9" />
<line x1="188.80" y1="383.20" x2="198.80" y2="383.20" stroke="#111" stroke-width="1.4" />
<circle cx="205.50" cy="367.10" r="1.75" fill="#1228e8"/>
<circle cx="212.40" cy="369.30" r="1.75" fill="#1228e8"/>
<circle cx="212.40" cy="375.50" r="1.75" fill="#1228e8"/>
<circle cx="205.50" cy="377.70" r="1.75" fill="#1228e8"/>
<circle cx="212.40" cy="380.00" r="1.75" fill="#1228e8"/>
<circle cx="205.50" cy="382.20" r="1.75" fill="#1228e8"/>
<circle cx="212.40" cy="384.40" r="1.75" fill="#1228e8"/>
<circle cx="205.50" cy="386.40" r="1.75" fill="#1228e8"/>
<circle cx="208.80" cy="394.80" r="1.75" fill="#1228e8"/>
<circle cx="208.80" cy="399.20" r="1.75" fill="#1228e8"/>
<line x1="208.80" y1="371.40" x2="208.80" y2="391.70" stroke="#555" stroke-width="0.9" />
<line x1="206.20" y1="371.40" x2="211.40" y2="371.40" stroke="#555" stroke-width="0.9" />
<line x1="206.20" y1="391.70" x2="211.40" y2="391.70" stroke="#555" stroke-width="0.9" />
<line x1="203.80" y1="381.50" x2="213.80" y2="381.50" stroke="#111" stroke-width="1.4" />
<path d="M223.70,374.00 L225.40,375.80 L223.70,377.60 L222.00,375.80 Z" fill="#e8141c"/>
<path d="M227.30,382.30 L229.00,384.10 L227.30,385.90 L225.60,384.10 Z" fill="#e8141c"/>
<path d="M220.40,384.60 L222.10,386.40 L220.40,388.20 L218.70,386.40 Z" fill="#e8141c"/>
<path d="M223.70,386.80 L225.40,388.60 L223.70,390.40 L222.00,388.60 Z" fill="#e8141c"/>
<path d="M227.30,393.20 L229.00,395.00 L227.30,396.80 L225.60,395.00 Z" fill="#e8141c"/>
<path d="M220.40,395.30 L222.10,397.10 L220.40,398.90 L218.70,397.10 Z" fill="#e8141c"/>
<path d="M223.70,397.20 L225.40,399.00 L223.70,400.80 L222.00,399.00 Z" fill="#e8141c"/>
<path d="M227.30,397.40 L229.00,399.20 L227.30,401.00 L225.60,399.20 Z" fill="#e8141c"/>
<path d="M223.70,401.70 L225.40,403.50 L223.70,405.30 L222.00,403.50 Z" fill="#e8141c"/>
<path d="M223.70,391.00 L225.40,392.80 L223.70,394.60 L222.00,392.80 Z" fill="#e8141c"/>
<line x1="223.70" y1="383.50" x2="223.70" y2="400.40" stroke="#555" stroke-width="0.9" />
<line x1="221.10" y1="383.50" x2="226.30" y2="383.50" stroke="#555" stroke-width="0.9" />
<line x1="221.10" y1="400.40" x2="226.30" y2="400.40" stroke="#555" stroke-width="0.9" />
<line x1="218.70" y1="392.20" x2="228.70" y2="392.20" stroke="#111" stroke-width="1.4" />
<text x="89.90" y="307.88" font-size="5.8" text-anchor="start" fill="#111" stroke="#111" stroke-width="0.2" textLength="16.70" lengthAdjust="spacingAndGlyphs">0.0055</text>
<polyline points="82.30,314.80 82.30,312.60 114.20,312.60 114.20,314.80" fill="none" stroke="#333" stroke-width="0.9"/>
<text x="92.80" y="322.78" font-size="5.8" text-anchor="start" fill="#111" stroke="#111" stroke-width="0.2" textLength="29.20" lengthAdjust="spacingAndGlyphs">3.6601E-06</text>
<polyline points="99.00,329.90 99.00,327.70 115.10,327.70 115.10,329.90" fill="none" stroke="#333" stroke-width="0.9"/>
<text x="81.10" y="328.28" font-size="5.8" text-anchor="start" fill="#9a2aa8" stroke="#9a2aa8" stroke-width="0.2" textLength="17.50" lengthAdjust="spacingAndGlyphs">0.2475</text>
<polyline points="82.30,335.70 82.30,333.50 98.60,333.50 98.60,335.70" fill="none" stroke="#333" stroke-width="0.9"/>
<text x="144.80" y="299.68" font-size="5.8" text-anchor="start" fill="#111" stroke="#111" stroke-width="0.2" textLength="52.70" lengthAdjust="spacingAndGlyphs">0.0474 (one-sided)</text>
<text x="144.80" y="306.88" font-size="5.8" text-anchor="start" fill="#9a2aa8" stroke="#9a2aa8" stroke-width="0.2" textLength="17.10" lengthAdjust="spacingAndGlyphs">0.0948</text>
<polyline points="137.60,313.70 137.60,311.50 169.80,311.50 169.80,313.70" fill="none" stroke="#333" stroke-width="0.9"/>
<text x="154.00" y="321.48" font-size="5.8" text-anchor="start" fill="#111" stroke="#111" stroke-width="0.2" textLength="17.50" lengthAdjust="spacingAndGlyphs">0.0419</text>
<polyline points="154.90,328.00 154.90,325.80 170.70,325.80 170.70,328.00" fill="none" stroke="#333" stroke-width="0.9"/>
<text x="136.80" y="328.68" font-size="5.8" text-anchor="start" fill="#9a2aa8" stroke="#9a2aa8" stroke-width="0.2" textLength="17.60" lengthAdjust="spacingAndGlyphs">0.8209</text>
<polyline points="137.60,336.20 137.60,334.00 153.50,334.00 153.50,336.20" fill="none" stroke="#333" stroke-width="0.9"/>
<text x="200.00" y="307.18" font-size="5.8" text-anchor="start" fill="#111" stroke="#111" stroke-width="0.2" textLength="17.30" lengthAdjust="spacingAndGlyphs">0.0371</text>
<polyline points="193.00,313.70 193.00,311.50 225.20,311.50 225.20,313.70" fill="none" stroke="#333" stroke-width="0.9"/>
<text x="209.80" y="321.98" font-size="5.8" text-anchor="start" fill="#111" stroke="#111" stroke-width="0.2" textLength="17.20" lengthAdjust="spacingAndGlyphs">0.0220</text>
<polyline points="210.60,328.00 210.60,325.80 226.60,325.80 226.60,328.00" fill="none" stroke="#333" stroke-width="0.9"/>
<text x="193.00" y="328.68" font-size="5.8" text-anchor="start" fill="#9a2aa8" stroke="#9a2aa8" stroke-width="0.2" textLength="17.30" lengthAdjust="spacingAndGlyphs">0.7770</text>
<polyline points="193.00,336.20 193.00,334.00 208.60,334.00 208.60,336.20" fill="none" stroke="#333" stroke-width="0.9"/>
<rect x="248.00" y="333.50" width="3.2" height="3.2" fill="#1ee31e"/>
<text x="262.10" y="338.21" font-size="8.7" text-anchor="start" fill="#111" stroke="#111" stroke-width="0.2" >GFPH</text>
<circle cx="249.60" cy="348.20" r="1.75" fill="#1228e8"/>
<text x="262.10" y="351.31" font-size="8.7" text-anchor="start" fill="#111" stroke="#111" stroke-width="0.2" >GFPM</text>
<path d="M249.60,358.50 L251.30,360.30 L249.60,362.10 L247.90,360.30 Z" fill="#e8141c"/>
<text x="262.10" y="363.41" font-size="8.7" text-anchor="start" fill="#111" stroke="#111" stroke-width="0.2" >GFPL</text>
<text x="371.00" y="293.98" font-size="12.5" text-anchor="middle" fill="#000" stroke="#000" stroke-width="0.2" >d</text>
<line x1="410.80" y1="317.20" x2="410.80" y2="427.00" stroke="#000" stroke-width="1.2" />
<line x1="406.50" y1="426.00" x2="573.00" y2="426.00" stroke="#000" stroke-width="1.2" />
<line x1="406.30" y1="426.00" x2="410.80" y2="426.00" stroke="#000" stroke-width="1" />
<text x="404.40" y="428.97" font-size="8.3" text-anchor="end" fill="#111" stroke="#111" stroke-width="0.2" >0</text>
<line x1="406.30" y1="404.34" x2="410.80" y2="404.34" stroke="#000" stroke-width="1" />
<text x="404.40" y="407.31" font-size="8.3" text-anchor="end" fill="#111" stroke="#111" stroke-width="0.2" >50</text>
<line x1="406.30" y1="382.68" x2="410.80" y2="382.68" stroke="#000" stroke-width="1" />
<text x="404.40" y="385.65" font-size="8.3" text-anchor="end" fill="#111" stroke="#111" stroke-width="0.2" >100</text>
<line x1="406.30" y1="361.02" x2="410.80" y2="361.02" stroke="#000" stroke-width="1" />
<text x="404.40" y="363.99" font-size="8.3" text-anchor="end" fill="#111" stroke="#111" stroke-width="0.2" >150</text>
<line x1="406.30" y1="339.36" x2="410.80" y2="339.36" stroke="#000" stroke-width="1" />
<text x="404.40" y="342.33" font-size="8.3" text-anchor="end" fill="#111" stroke="#111" stroke-width="0.2" >200</text>
<line x1="406.30" y1="317.70" x2="410.80" y2="317.70" stroke="#000" stroke-width="1" />
<text x="404.40" y="320.67" font-size="8.3" text-anchor="end" fill="#111" stroke="#111" stroke-width="0.2" >250</text>
<line x1="436.20" y1="426.00" x2="436.20" y2="430.60" stroke="#000" stroke-width="1" />
<line x1="492.20" y1="426.00" x2="492.20" y2="430.60" stroke="#000" stroke-width="1" />
<line x1="547.90" y1="426.00" x2="547.90" y2="430.60" stroke="#000" stroke-width="1" />
<text transform="translate(385.6,371.9) rotate(-90)" font-size="8.5" text-anchor="middle" fill="#111" stroke="#111" stroke-width="0.2" textLength="57" lengthAdjust="spacingAndGlyphs">Pumping  Rate</text>
<text x="400.40" y="441.18" font-size="8.6" text-anchor="start" fill="#111" stroke="#111" stroke-width="0.2" textLength="24.90" lengthAdjust="spacingAndGlyphs">n = 10</text>
<text x="437.50" y="441.18" font-size="8.6" text-anchor="middle" fill="#111" stroke="#111" stroke-width="0.2" >10</text>
<text x="451.50" y="441.18" font-size="8.6" text-anchor="middle" fill="#111" stroke="#111" stroke-width="0.2" >10</text>
<text x="477.80" y="441.18" font-size="8.6" text-anchor="middle" fill="#111" stroke="#111" stroke-width="0.2" >10</text>
<text x="492.40" y="441.18" font-size="8.6" text-anchor="middle" fill="#111" stroke="#111" stroke-width="0.2" >10</text>
<text x="506.10" y="441.18" font-size="8.6" text-anchor="middle" fill="#111" stroke="#111" stroke-width="0.2" >10</text>
<text x="535.30" y="441.18" font-size="8.6" text-anchor="middle" fill="#111" stroke="#111" stroke-width="0.2" >10</text>
<text x="549.30" y="441.18" font-size="8.6" text-anchor="middle" fill="#111" stroke="#111" stroke-width="0.2" >10</text>
<text x="564.00" y="441.18" font-size="8.6" text-anchor="middle" fill="#111" stroke="#111" stroke-width="0.2" >10</text>
<text x="436.40" y="451.27" font-size="8.3" text-anchor="middle" fill="#111" stroke="#111" stroke-width="0.2" >D6A</text>
<text x="492.40" y="451.27" font-size="8.3" text-anchor="middle" fill="#111" stroke="#111" stroke-width="0.2" >D7A</text>
<text x="547.90" y="451.27" font-size="8.3" text-anchor="middle" fill="#111" stroke="#111" stroke-width="0.2" >D8A</text>
<text x="492.40" y="461.72" font-size="9.0" text-anchor="middle" fill="#111" stroke="#111" stroke-width="0.2" >Age</text>
<rect x="419.20" y="326.80" width="3.2" height="3.2" fill="#1ee31e"/>
<rect x="419.20" y="332.60" width="3.2" height="3.2" fill="#1ee31e"/>
<rect x="417.30" y="339.70" width="3.2" height="3.2" fill="#1ee31e"/>
<rect x="420.80" y="339.70" width="3.2" height="3.2" fill="#1ee31e"/>
<rect x="415.90" y="344.10" width="3.2" height="3.2" fill="#1ee31e"/>
<rect x="422.60" y="344.10" width="3.2" height="3.2" fill="#1ee31e"/>
<rect x="415.90" y="346.60" width="3.2" height="3.2" fill="#1ee31e"/>
<rect x="422.60" y="348.60" width="3.2" height="3.2" fill="#1ee31e"/>
<rect x="417.30" y="352.10" width="3.2" height="3.2" fill="#1ee31e"/>
<rect x="420.80" y="352.10" width="3.2" height="3.2" fill="#1ee31e"/>
<line x1="420.80" y1="336.40" x2="420.80" y2="351.90" stroke="#2a2a2a" stroke-width="0.9" />
<line x1="418.20" y1="336.40" x2="423.40" y2="336.40" stroke="#2a2a2a" stroke-width="0.9" />
<line x1="418.20" y1="351.90" x2="423.40" y2="351.90" stroke="#2a2a2a" stroke-width="0.9" />
<line x1="415.80" y1="344.40" x2="425.80" y2="344.40" stroke="#111" stroke-width="1.4" />
<circle cx="436.20" cy="338.20" r="1.75" fill="#1228e8"/>
<circle cx="432.60" cy="341.70" r="1.75" fill="#1228e8"/>
<circle cx="439.70" cy="342.90" r="1.75" fill="#1228e8"/>
<circle cx="436.20" cy="345.70" r="1.75" fill="#1228e8"/>
<circle cx="439.70" cy="348.40" r="1.75" fill="#1228e8"/>
<circle cx="436.20" cy="351.10" r="1.75" fill="#1228e8"/>
<circle cx="432.60" cy="352.40" r="1.75" fill="#1228e8"/>
<circle cx="439.70" cy="352.40" r="1.75" fill="#1228e8"/>
<circle cx="434.40" cy="356.60" r="1.75" fill="#1228e8"/>
<circle cx="438.00" cy="355.90" r="1.75" fill="#1228e8"/>
<line x1="436.20" y1="342.20" x2="436.20" y2="354.20" stroke="#2a2a2a" stroke-width="0.9" />
<line x1="433.60" y1="342.20" x2="438.80" y2="342.20" stroke="#2a2a2a" stroke-width="0.9" />
<line x1="433.60" y1="354.20" x2="438.80" y2="354.20" stroke="#2a2a2a" stroke-width="0.9" />
<line x1="431.20" y1="348.60" x2="441.20" y2="348.60" stroke="#111" stroke-width="1.4" />
<path d="M449.80,352.20 L451.50,354.00 L449.80,355.80 L448.10,354.00 Z" fill="#e8141c"/>
<path d="M453.30,354.10 L455.00,355.90 L453.30,357.70 L451.60,355.90 Z" fill="#e8141c"/>
<path d="M448.00,358.00 L449.70,359.80 L448.00,361.60 L446.30,359.80 Z" fill="#e8141c"/>
<path d="M451.30,360.60 L453.00,362.40 L451.30,364.20 L449.60,362.40 Z" fill="#e8141c"/>
<path d="M448.00,362.10 L449.70,363.90 L448.00,365.70 L446.30,363.90 Z" fill="#e8141c"/>
<path d="M454.80,362.10 L456.50,363.90 L454.80,365.70 L453.10,363.90 Z" fill="#e8141c"/>
<path d="M453.30,367.40 L455.00,369.20 L453.30,371.00 L451.60,369.20 Z" fill="#e8141c"/>
<path d="M449.80,369.20 L451.50,371.00 L449.80,372.80 L448.10,371.00 Z" fill="#e8141c"/>
<path d="M449.60,383.20 L451.30,385.00 L449.60,386.80 L447.90,385.00 Z" fill="#e8141c"/>
<path d="M453.50,381.30 L455.20,383.10 L453.50,384.90 L451.80,383.10 Z" fill="#e8141c"/>
<line x1="451.30" y1="355.90" x2="451.30" y2="384.00" stroke="#2a2a2a" stroke-width="0.9" />
<line x1="448.70" y1="355.90" x2="453.90" y2="355.90" stroke="#2a2a2a" stroke-width="0.9" />
<line x1="448.70" y1="384.00" x2="453.90" y2="384.00" stroke="#2a2a2a" stroke-width="0.9" />
<line x1="446.30" y1="363.50" x2="456.30" y2="363.50" stroke="#111" stroke-width="1.4" />
<rect x="471.90" y="350.80" width="3.2" height="3.2" fill="#1ee31e"/>
<rect x="475.10" y="350.80" width="3.2" height="3.2" fill="#1ee31e"/>
<rect x="478.20" y="350.80" width="3.2" height="3.2" fill="#1ee31e"/>
<rect x="471.90" y="353.90" width="3.2" height="3.2" fill="#1ee31e"/>
<rect x="478.20" y="353.90" width="3.2" height="3.2" fill="#1ee31e"/>
<rect x="471.50" y="353.30" width="3.2" height="3.2" fill="#1ee31e"/>
<rect x="478.60" y="354.40" width="3.2" height="3.2" fill="#1ee31e"/>
<rect x="475.10" y="358.40" width="3.2" height="3.2" fill="#1ee31e"/>
<rect x="475.10" y="364.40" width="3.2" height="3.2" fill="#1ee31e"/>
<rect x="475.10" y="369.60" width="3.2" height="3.2" fill="#1ee31e"/>
<line x1="476.70" y1="352.20" x2="476.70" y2="364.00" stroke="#2a2a2a" stroke-width="0.9" />
<line x1="474.10" y1="352.20" x2="479.30" y2="352.20" stroke="#2a2a2a" stroke-width="0.9" />
<line x1="474.10" y1="364.00" x2="479.30" y2="364.00" stroke="#2a2a2a" stroke-width="0.9" />
<line x1="471.70" y1="358.40" x2="481.70" y2="358.40" stroke="#111" stroke-width="1.4" />
<circle cx="492.20" cy="347.50" r="1.75" fill="#1228e8"/>
<circle cx="492.20" cy="353.30" r="1.75" fill="#1228e8"/>
<circle cx="488.60" cy="354.40" r="1.75" fill="#1228e8"/>
<circle cx="495.70" cy="354.90" r="1.75" fill="#1228e8"/>
<circle cx="488.60" cy="358.90" r="1.75" fill="#1228e8"/>
<circle cx="492.20" cy="358.20" r="1.75" fill="#1228e8"/>
<circle cx="495.70" cy="360.20" r="1.75" fill="#1228e8"/>
<circle cx="492.20" cy="363.20" r="1.75" fill="#1228e8"/>
<circle cx="492.20" cy="372.00" r="1.75" fill="#1228e8"/>
<circle cx="492.20" cy="384.80" r="1.75" fill="#1228e8"/>
<line x1="492.20" y1="350.20" x2="492.20" y2="371.50" stroke="#2a2a2a" stroke-width="0.9" />
<line x1="489.60" y1="350.20" x2="494.80" y2="350.20" stroke="#2a2a2a" stroke-width="0.9" />
<line x1="489.60" y1="371.50" x2="494.80" y2="371.50" stroke="#2a2a2a" stroke-width="0.9" />
<line x1="487.20" y1="360.90" x2="497.20" y2="360.90" stroke="#111" stroke-width="1.4" />
<path d="M507.30,351.50 L509.00,353.30 L507.30,355.10 L505.60,353.30 Z" fill="#e8141c"/>
<path d="M503.70,357.70 L505.40,359.50 L503.70,361.30 L502.00,359.50 Z" fill="#e8141c"/>
<path d="M510.80,357.70 L512.50,359.50 L510.80,361.30 L509.10,359.50 Z" fill="#e8141c"/>
<path d="M507.30,359.50 L509.00,361.30 L507.30,363.10 L505.60,361.30 Z" fill="#e8141c"/>
<path d="M505.50,371.50 L507.20,373.30 L505.50,375.10 L503.80,373.30 Z" fill="#e8141c"/>
<path d="M509.00,369.70 L510.70,371.50 L509.00,373.30 L507.30,371.50 Z" fill="#e8141c"/>
<path d="M507.30,380.60 L509.00,382.40 L507.30,384.20 L505.60,382.40 Z" fill="#e8141c"/>
<path d="M505.50,386.20 L507.20,388.00 L505.50,389.80 L503.80,388.00 Z" fill="#e8141c"/>
<path d="M509.00,386.20 L510.70,388.00 L509.00,389.80 L507.30,388.00 Z" fill="#e8141c"/>
<path d="M507.30,400.80 L509.00,402.60 L507.30,404.40 L505.60,402.60 Z" fill="#e8141c"/>
<line x1="507.30" y1="359.30" x2="507.30" y2="388.00" stroke="#2a2a2a" stroke-width="0.9" />
<line x1="504.70" y1="359.30" x2="509.90" y2="359.30" stroke="#2a2a2a" stroke-width="0.9" />
<line x1="504.70" y1="388.00" x2="509.90" y2="388.00" stroke="#2a2a2a" stroke-width="0.9" />
<line x1="502.30" y1="372.60" x2="512.30" y2="372.60" stroke="#111" stroke-width="1.4" />
<rect x="528.70" y="351.70" width="3.2" height="3.2" fill="#1ee31e"/>
<rect x="531.20" y="351.70" width="3.2" height="3.2" fill="#1ee31e"/>
<rect x="533.60" y="351.70" width="3.2" height="3.2" fill="#1ee31e"/>
<rect x="533.60" y="358.40" width="3.2" height="3.2" fill="#1ee31e"/>
<rect x="527.40" y="361.60" width="3.2" height="3.2" fill="#1ee31e"/>
<rect x="534.90" y="361.60" width="3.2" height="3.2" fill="#1ee31e"/>
<rect x="531.20" y="361.30" width="3.2" height="3.2" fill="#1ee31e"/>
<rect x="528.70" y="364.10" width="3.2" height="3.2" fill="#1ee31e"/>
<rect x="533.60" y="364.10" width="3.2" height="3.2" fill="#1ee31e"/>
<rect x="531.20" y="371.70" width="3.2" height="3.2" fill="#1ee31e"/>
<line x1="532.80" y1="355.50" x2="532.80" y2="367.70" stroke="#2a2a2a" stroke-width="0.9" />
<line x1="530.20" y1="355.50" x2="535.40" y2="355.50" stroke="#2a2a2a" stroke-width="0.9" />
<line x1="530.20" y1="367.70" x2="535.40" y2="367.70" stroke="#2a2a2a" stroke-width="0.9" />
<line x1="527.80" y1="361.50" x2="537.80" y2="361.50" stroke="#111" stroke-width="1.4" />
<circle cx="547.90" cy="357.70" r="1.75" fill="#1228e8"/>
<circle cx="544.50" cy="359.10" r="1.75" fill="#1228e8"/>
<circle cx="551.40" cy="361.30" r="1.75" fill="#1228e8"/>
<circle cx="547.90" cy="361.70" r="1.75" fill="#1228e8"/>
<circle cx="544.50" cy="363.50" r="1.75" fill="#1228e8"/>
<circle cx="547.90" cy="366.20" r="1.75" fill="#1228e8"/>
<circle cx="544.50" cy="371.50" r="1.75" fill="#1228e8"/>
<circle cx="547.90" cy="374.60" r="1.75" fill="#1228e8"/>
<circle cx="551.40" cy="374.60" r="1.75" fill="#1228e8"/>
<circle cx="547.90" cy="385.70" r="1.75" fill="#1228e8"/>
<line x1="547.90" y1="358.20" x2="547.90" y2="376.20" stroke="#2a2a2a" stroke-width="0.9" />
<line x1="545.30" y1="358.20" x2="550.50" y2="358.20" stroke="#2a2a2a" stroke-width="0.9" />
<line x1="545.30" y1="376.20" x2="550.50" y2="376.20" stroke="#2a2a2a" stroke-width="0.9" />
<line x1="542.90" y1="367.50" x2="552.90" y2="367.50" stroke="#111" stroke-width="1.4" />
<path d="M563.30,368.80 L565.00,370.60 L563.30,372.40 L561.60,370.60 Z" fill="#e8141c"/>
<path d="M566.70,375.90 L568.40,377.70 L566.70,379.50 L565.00,377.70 Z" fill="#e8141c"/>
<path d="M559.60,378.00 L561.30,379.80 L559.60,381.60 L557.90,379.80 Z" fill="#e8141c"/>
<path d="M563.30,381.70 L565.00,383.50 L563.30,385.30 L561.60,383.50 Z" fill="#e8141c"/>
<path d="M559.60,386.10 L561.30,387.90 L559.60,389.70 L557.90,387.90 Z" fill="#e8141c"/>
<path d="M566.70,387.40 L568.40,389.20 L566.70,391.00 L565.00,389.20 Z" fill="#e8141c"/>
<path d="M566.70,392.80 L568.40,394.60 L566.70,396.40 L565.00,394.60 Z" fill="#e8141c"/>
<path d="M559.60,395.00 L561.30,396.80 L559.60,398.60 L557.90,396.80 Z" fill="#e8141c"/>
<path d="M566.70,396.80 L568.40,398.60 L566.70,400.40 L565.00,398.60 Z" fill="#e8141c"/>
<path d="M563.30,416.80 L565.00,418.60 L563.30,420.40 L561.60,418.60 Z" fill="#e8141c"/>
<line x1="563.30" y1="377.30" x2="563.30" y2="398.60" stroke="#2a2a2a" stroke-width="0.9" />
<line x1="560.70" y1="377.30" x2="565.90" y2="377.30" stroke="#2a2a2a" stroke-width="0.9" />
<line x1="560.70" y1="398.60" x2="565.90" y2="398.60" stroke="#2a2a2a" stroke-width="0.9" />
<line x1="558.30" y1="388.40" x2="568.30" y2="388.40" stroke="#111" stroke-width="1.4" />
<text x="419.90" y="291.98" font-size="5.8" text-anchor="start" fill="#111" stroke="#111" stroke-width="0.2" textLength="32.90" lengthAdjust="spacingAndGlyphs">7.82606E-06</text>
<polyline points="420.40,299.70 420.40,297.50 453.70,297.50 453.70,299.70" fill="none" stroke="#333" stroke-width="0.9"/>
<text x="420.00" y="309.18" font-size="5.8" text-anchor="start" fill="#9a2aa8" stroke="#9a2aa8" stroke-width="0.2" textLength="17.10" lengthAdjust="spacingAndGlyphs">0.2650</text>
<polyline points="420.40,316.70 420.40,314.50 437.10,314.50 437.10,316.70" fill="none" stroke="#333" stroke-width="0.9"/>
<text x="437.10" y="323.58" font-size="5.8" text-anchor="start" fill="#111" stroke="#111" stroke-width="0.2" textLength="17.20" lengthAdjust="spacingAndGlyphs">0.0003</text>
<polyline points="438.30,331.20 438.30,329.00 454.30,329.00 454.30,331.20" fill="none" stroke="#333" stroke-width="0.9"/>
<text x="484.40" y="292.08" font-size="5.8" text-anchor="start" fill="#111" stroke="#111" stroke-width="0.2" textLength="17.70" lengthAdjust="spacingAndGlyphs">0.0136</text>
<polyline points="477.40,299.40 477.40,297.20 509.80,297.20 509.80,299.40" fill="none" stroke="#333" stroke-width="0.9"/>
<text x="476.10" y="308.38" font-size="5.8" text-anchor="start" fill="#9a2aa8" stroke="#9a2aa8" stroke-width="0.2" textLength="17.90" lengthAdjust="spacingAndGlyphs">0.5229</text>
<polyline points="477.40,315.50 477.40,313.30 493.30,313.30 493.30,315.50" fill="none" stroke="#333" stroke-width="0.9"/>
<text x="492.80" y="322.38" font-size="5.8" text-anchor="start" fill="#111" stroke="#111" stroke-width="0.2" textLength="17.80" lengthAdjust="spacingAndGlyphs">0.0441</text>
<polyline points="494.50,329.50 494.50,327.30 510.60,327.30 510.60,329.50" fill="none" stroke="#333" stroke-width="0.9"/>
<text x="532.20" y="292.08" font-size="5.8" text-anchor="start" fill="#111" stroke="#111" stroke-width="0.2" textLength="32.90" lengthAdjust="spacingAndGlyphs">4.65887E-05</text>
<polyline points="533.40,299.40 533.40,297.20 565.80,297.20 565.80,299.40" fill="none" stroke="#333" stroke-width="0.9"/>
<text x="532.20" y="309.28" font-size="5.8" text-anchor="start" fill="#111" stroke="#111" stroke-width="0.2" textLength="52.00" lengthAdjust="spacingAndGlyphs">0.0444(one-sided)</text>
<text x="532.20" y="316.28" font-size="5.8" text-anchor="start" fill="#9a2aa8" stroke="#9a2aa8" stroke-width="0.2" textLength="17.90" lengthAdjust="spacingAndGlyphs">0.0888</text>
<polyline points="533.40,323.70 533.40,321.50 549.20,321.50 549.20,323.70" fill="none" stroke="#333" stroke-width="0.9"/>
<text x="550.10" y="331.48" font-size="5.8" text-anchor="start" fill="#111" stroke="#111" stroke-width="0.2" textLength="16.80" lengthAdjust="spacingAndGlyphs">0.0004</text>
<polyline points="550.60,338.60 550.60,336.40 566.70,336.40 566.70,338.60" fill="none" stroke="#333" stroke-width="0.9"/>
<rect x="593.60" y="316.90" width="3.2" height="3.2" fill="#1ee31e"/>
<text x="607.80" y="321.54" font-size="8.5" text-anchor="start" fill="#111" stroke="#111" stroke-width="0.2" >GFPH</text>
<circle cx="595.20" cy="333.90" r="1.75" fill="#1228e8"/>
<text x="607.80" y="336.94" font-size="8.5" text-anchor="start" fill="#111" stroke="#111" stroke-width="0.2" >GFPM</text>
<path d="M595.20,346.70 L596.90,348.50 L595.20,350.30 L593.50,348.50 Z" fill="#e8141c"/>
<text x="607.80" y="351.54" font-size="8.5" text-anchor="start" fill="#111" stroke="#111" stroke-width="0.2" >GFP L</text>
<text x="1.70" y="481.88" font-size="12.5" text-anchor="middle" fill="#000" stroke="#000" stroke-width="0.2" >e</text>
<line x1="61.50" y1="504.90" x2="61.50" y2="639.80" stroke="#111" stroke-width="1.4" />
<line x1="60.90" y1="639.20" x2="277.46" y2="639.20" stroke="#111" stroke-width="1.4" />
<text x="52.00" y="642.64" font-size="9.6" text-anchor="end" fill="#222" stroke="#222" stroke-width="0.2" >0</text>
<line x1="61.50" y1="612.44" x2="65.00" y2="612.44" stroke="#111" stroke-width="1.2" />
<text x="52.00" y="615.88" font-size="9.6" text-anchor="end" fill="#222" stroke="#222" stroke-width="0.2" >0.2</text>
<line x1="61.50" y1="585.68" x2="65.00" y2="585.68" stroke="#111" stroke-width="1.2" />
<text x="52.00" y="589.12" font-size="9.6" text-anchor="end" fill="#222" stroke="#222" stroke-width="0.2" >0.4</text>
<line x1="61.50" y1="558.92" x2="65.00" y2="558.92" stroke="#111" stroke-width="1.2" />
<text x="52.00" y="562.36" font-size="9.6" text-anchor="end" fill="#222" stroke="#222" stroke-width="0.2" >0.6</text>
<line x1="61.50" y1="532.16" x2="65.00" y2="532.16" stroke="#111" stroke-width="1.2" />
<text x="52.00" y="535.60" font-size="9.6" text-anchor="end" fill="#222" stroke="#222" stroke-width="0.2" >0.8</text>
<line x1="61.50" y1="505.40" x2="65.00" y2="505.40" stroke="#111" stroke-width="1.2" />
<text x="52.00" y="508.84" font-size="9.6" text-anchor="end" fill="#222" stroke="#222" stroke-width="0.2" >1</text>
<text x="61.50" y="656.34" font-size="9.6" text-anchor="middle" fill="#222" stroke="#222" stroke-width="0.2" >0</text>
<line x1="92.27" y1="639.20" x2="92.27" y2="635.70" stroke="#111" stroke-width="1.2" />
<text x="92.27" y="656.34" font-size="9.6" text-anchor="middle" fill="#222" stroke="#222" stroke-width="0.2" >5</text>
<line x1="123.03" y1="639.20" x2="123.03" y2="635.70" stroke="#111" stroke-width="1.2" />
<text x="123.03" y="656.34" font-size="9.6" text-anchor="middle" fill="#222" stroke="#222" stroke-width="0.2" >10</text>
<line x1="153.79" y1="639.20" x2="153.79" y2="635.70" stroke="#111" stroke-width="1.2" />
<text x="153.79" y="656.34" font-size="9.6" text-anchor="middle" fill="#222" stroke="#222" stroke-width="0.2" >15</text>
<line x1="184.56" y1="639.20" x2="184.56" y2="635.70" stroke="#111" stroke-width="1.2" />
<text x="184.56" y="656.34" font-size="9.6" text-anchor="middle" fill="#222" stroke="#222" stroke-width="0.2" >20</text>
<line x1="215.32" y1="639.20" x2="215.32" y2="635.70" stroke="#111" stroke-width="1.2" />
<text x="215.32" y="656.34" font-size="9.6" text-anchor="middle" fill="#222" stroke="#222" stroke-width="0.2" >25</text>
<line x1="246.09" y1="639.20" x2="246.09" y2="635.70" stroke="#111" stroke-width="1.2" />
<text x="246.09" y="656.34" font-size="9.6" text-anchor="middle" fill="#222" stroke="#222" stroke-width="0.2" >30</text>
<line x1="276.86" y1="639.20" x2="276.86" y2="635.70" stroke="#111" stroke-width="1.2" />
<text x="276.86" y="656.34" font-size="9.6" text-anchor="middle" fill="#222" stroke="#222" stroke-width="0.2" >35</text>
<text transform="translate(35.10,572.80) rotate(-90)" font-size="9.7" text-anchor="middle" fill="#222" stroke="#222" stroke-width="0.2">Fraction Alive</text>
<text x="169.60" y="671.67" font-size="9.7" text-anchor="middle" fill="#222" stroke="#222" stroke-width="0.2" >Days</text>
<polyline points="61.50,505.40 92.27,505.40 97.19,553.03 103.96,577.25 116.88,587.55 129.18,589.96 141.49,589.69 153.79,594.38 166.10,604.41 178.41,606.55 196.87,623.68 204.86,625.82 209.17,627.16 221.48,633.85 233.78,639.20" fill="none" stroke="#000" stroke-width="1.6" stroke-linejoin="round" />
<polyline points="61.50,505.40 92.27,505.40 98.42,514.77 103.96,544.20 110.42,559.59 116.88,564.81 123.03,566.41 129.18,566.01 141.49,574.98 153.79,575.78 166.10,577.25 178.41,585.68 190.71,603.07 196.87,617.79 209.17,627.16 221.48,633.85 233.78,639.20" fill="none" stroke="#808080" stroke-width="1.6" stroke-linejoin="round" />
<polyline points="61.50,505.40 98.42,505.40 104.57,512.76 110.72,529.48 116.88,539.39 123.03,545.54 141.49,553.57 153.79,555.98 166.10,564.81 178.41,580.33 196.87,617.79 209.17,626.36 221.48,633.58 233.78,638.53 239.94,639.20" fill="none" stroke="#66cc44" stroke-width="1.6" stroke-linejoin="round" />
<polyline points="61.50,505.40 98.42,505.40 105.19,507.41 110.72,516.91 116.26,539.39 123.03,545.54 129.18,547.15 141.49,549.96 153.79,551.83 166.10,557.05 178.41,569.62 196.87,616.45 209.17,621.14 221.48,632.51 233.78,637.46 246.09,639.20" fill="none" stroke="#00b050" stroke-width="1.6" stroke-linejoin="round" />
<line x1="61.50" y1="505.40" x2="95.96" y2="505.40" stroke="#5cc870" stroke-width="1.4" />
<line x1="173.00" y1="509.60" x2="183.00" y2="509.60" stroke="#000" stroke-width="1.6" />
<text x="185.50" y="512.64" font-size="8.5" text-anchor="start" fill="#222" stroke="#222" stroke-width="0.2" >GFP1</text>
<line x1="173.00" y1="523.50" x2="183.00" y2="523.50" stroke="#808080" stroke-width="1.6" />
<text x="185.50" y="526.54" font-size="8.5" text-anchor="start" fill="#222" stroke="#222" stroke-width="0.2" >GFP2</text>
<line x1="173.00" y1="536.20" x2="183.00" y2="536.20" stroke="#66cc44" stroke-width="1.6" />
<text x="185.50" y="539.24" font-size="8.5" text-anchor="start" fill="#222" stroke="#222" stroke-width="0.2" >GFP3</text>
<line x1="173.00" y1="550.00" x2="183.00" y2="550.00" stroke="#00b050" stroke-width="1.6" />
<text x="185.50" y="553.04" font-size="8.5" text-anchor="start" fill="#222" stroke="#222" stroke-width="0.2" >GFP4</text>
<polyline points="211.50,506.80 216.20,506.80 216.20,520.00 211.50,520.00" fill="none" stroke="#333" stroke-width="1"/>
<text x="217.80" y="520.30" font-size="12.0" text-anchor="start" fill="#222" stroke="#222" stroke-width="0.2" textLength="14.60" lengthAdjust="spacingAndGlyphs">***</text>
<polyline points="211.50,522.10 216.20,522.10 216.20,535.80 211.50,535.80" fill="none" stroke="#333" stroke-width="1"/>
<text x="221.60" y="536.10" font-size="12.0" text-anchor="middle" fill="#222" stroke="#222" stroke-width="0.2" >*</text>
<polyline points="211.50,538.30 216.20,538.30 216.20,552.00 211.50,552.00" fill="none" stroke="#333" stroke-width="1"/>
<text x="217.80" y="547.88" font-size="10" text-anchor="start" fill="#222" stroke="#222" stroke-width="0.2" >ns</text>
<polyline points="233.30,505.40 238.10,505.40 238.10,538.30 233.30,538.30" fill="none" stroke="#333" stroke-width="1"/>
<text x="241.50" y="522.80" font-size="12.0" text-anchor="start" fill="#222" stroke="#222" stroke-width="0.2" textLength="19.90" lengthAdjust="spacingAndGlyphs">****</text>
<polyline points="242.80,521.60 248.50,521.60 248.50,552.00 242.80,552.00" fill="none" stroke="#333" stroke-width="1"/>
<text x="248.50" y="542.10" font-size="12.0" text-anchor="start" fill="#222" stroke="#222" stroke-width="0.2" textLength="9.50" lengthAdjust="spacingAndGlyphs">**</text>
<polyline points="257.00,503.50 262.70,503.50 262.70,552.00 257.00,552.00" fill="none" stroke="#333" stroke-width="1"/>
<text x="265.20" y="527.50" font-size="12.0" text-anchor="start" fill="#222" stroke="#222" stroke-width="0.2" textLength="19.90" lengthAdjust="spacingAndGlyphs">****</text>
<text x="370.00" y="481.88" font-size="12.5" text-anchor="middle" fill="#000" stroke="#000" stroke-width="0.2" >f</text>
<line x1="410.80" y1="508.20" x2="410.80" y2="642.40" stroke="#111" stroke-width="1.4" />
<line x1="410.20" y1="641.80" x2="624.20" y2="641.80" stroke="#111" stroke-width="1.4" />
<text x="400.10" y="645.24" font-size="9.6" text-anchor="end" fill="#222" stroke="#222" stroke-width="0.2" >0</text>
<line x1="410.80" y1="615.18" x2="414.30" y2="615.18" stroke="#111" stroke-width="1.2" />
<text x="400.10" y="618.62" font-size="9.6" text-anchor="end" fill="#222" stroke="#222" stroke-width="0.2" >0.2</text>
<line x1="410.80" y1="588.56" x2="414.30" y2="588.56" stroke="#111" stroke-width="1.2" />
<text x="400.10" y="592.00" font-size="9.6" text-anchor="end" fill="#222" stroke="#222" stroke-width="0.2" >0.4</text>
<line x1="410.80" y1="561.94" x2="414.30" y2="561.94" stroke="#111" stroke-width="1.2" />
<text x="400.10" y="565.38" font-size="9.6" text-anchor="end" fill="#222" stroke="#222" stroke-width="0.2" >0.6</text>
<line x1="410.80" y1="535.32" x2="414.30" y2="535.32" stroke="#111" stroke-width="1.2" />
<text x="400.10" y="538.76" font-size="9.6" text-anchor="end" fill="#222" stroke="#222" stroke-width="0.2" >0.8</text>
<line x1="410.80" y1="508.70" x2="414.30" y2="508.70" stroke="#111" stroke-width="1.2" />
<text x="400.10" y="512.14" font-size="9.6" text-anchor="end" fill="#222" stroke="#222" stroke-width="0.2" >1</text>
<text x="410.80" y="659.24" font-size="9.6" text-anchor="middle" fill="#222" stroke="#222" stroke-width="0.2" >0</text>
<line x1="441.20" y1="641.80" x2="441.20" y2="638.30" stroke="#111" stroke-width="1.2" />
<text x="441.20" y="659.24" font-size="9.6" text-anchor="middle" fill="#222" stroke="#222" stroke-width="0.2" >5</text>
<line x1="471.60" y1="641.80" x2="471.60" y2="638.30" stroke="#111" stroke-width="1.2" />
<text x="471.60" y="659.24" font-size="9.6" text-anchor="middle" fill="#222" stroke="#222" stroke-width="0.2" >10</text>
<line x1="502.00" y1="641.80" x2="502.00" y2="638.30" stroke="#111" stroke-width="1.2" />
<text x="502.00" y="659.24" font-size="9.6" text-anchor="middle" fill="#222" stroke="#222" stroke-width="0.2" >15</text>
<line x1="532.40" y1="641.80" x2="532.40" y2="638.30" stroke="#111" stroke-width="1.2" />
<text x="532.40" y="659.24" font-size="9.6" text-anchor="middle" fill="#222" stroke="#222" stroke-width="0.2" >20</text>
<line x1="562.80" y1="641.80" x2="562.80" y2="638.30" stroke="#111" stroke-width="1.2" />
<text x="562.80" y="659.24" font-size="9.6" text-anchor="middle" fill="#222" stroke="#222" stroke-width="0.2" >25</text>
<line x1="593.20" y1="641.80" x2="593.20" y2="638.30" stroke="#111" stroke-width="1.2" />
<text x="593.20" y="659.24" font-size="9.6" text-anchor="middle" fill="#222" stroke="#222" stroke-width="0.2" >30</text>
<line x1="623.60" y1="641.80" x2="623.60" y2="638.30" stroke="#111" stroke-width="1.2" />
<text x="623.60" y="659.24" font-size="9.6" text-anchor="middle" fill="#222" stroke="#222" stroke-width="0.2" >35</text>
<text transform="translate(383.90,575.60) rotate(-90)" font-size="9.7" text-anchor="middle" fill="#222" stroke="#222" stroke-width="0.2">Fraction Alive</text>
<text x="517.00" y="673.47" font-size="9.7" text-anchor="middle" fill="#222" stroke="#222" stroke-width="0.2" >Days</text>
<polyline points="410.80,508.70 447.28,508.70 452.45,520.01 458.83,559.28 464.91,561.94 477.07,566.86 494.70,567.26 507.47,567.93 520.24,574.32 544.56,591.62 556.72,599.61 568.88,623.70 581.04,637.27 593.20,641.80" fill="none" stroke="#000" stroke-width="1.6" stroke-linejoin="round" />
<polyline points="410.80,508.70 447.28,508.70 454.58,520.01 458.83,540.64 470.99,549.03 482.54,554.35 494.70,558.48 507.47,563.27 520.24,567.93 532.40,575.25 544.56,591.62 556.72,605.20 568.88,622.10 581.04,637.27 593.20,640.47 605.36,641.80" fill="none" stroke="#808080" stroke-width="1.6" stroke-linejoin="round" />
<polyline points="410.80,508.70 453.36,508.70 458.83,522.01 470.99,529.60 482.54,532.66 494.70,536.65 507.47,541.98 520.24,547.96 532.40,563.27 544.56,575.25 556.72,592.55 568.88,623.17 581.04,632.48 593.20,636.48 605.36,637.81 617.52,641.80" fill="none" stroke="#92c353" stroke-width="1.6" stroke-linejoin="round" />
<polyline points="410.80,508.70 453.36,508.70 458.83,514.69 464.91,526.00 470.99,537.98 477.07,543.97 482.54,545.97 494.70,547.30 507.47,551.96 520.24,561.94 532.40,577.91 544.56,589.89 556.72,605.86 568.88,631.15 581.04,637.81 593.20,640.47 605.36,641.80" fill="none" stroke="#00b050" stroke-width="1.6" stroke-linejoin="round" />
<line x1="535.90" y1="510.80" x2="545.70" y2="510.80" stroke="#000" stroke-width="1.6" />
<text x="548.30" y="513.84" font-size="8.5" text-anchor="start" fill="#222" stroke="#222" stroke-width="0.2" >GFP1</text>
<line x1="535.90" y1="523.00" x2="545.70" y2="523.00" stroke="#808080" stroke-width="1.6" />
<text x="548.30" y="526.04" font-size="8.5" text-anchor="start" fill="#222" stroke="#222" stroke-width="0.2" >GFP2</text>
<line x1="535.90" y1="535.80" x2="545.70" y2="535.80" stroke="#92c353" stroke-width="1.6" />
<text x="548.30" y="538.84" font-size="8.5" text-anchor="start" fill="#222" stroke="#222" stroke-width="0.2" >GFP3</text>
<line x1="535.90" y1="547.90" x2="545.70" y2="547.90" stroke="#00b050" stroke-width="1.6" />
<text x="548.30" y="550.94" font-size="8.5" text-anchor="start" fill="#222" stroke="#222" stroke-width="0.2" >GFP4</text>
<polyline points="573.20,507.30 577.20,507.30 577.20,519.50 573.20,519.50" fill="none" stroke="#333" stroke-width="1"/>
<text x="578.40" y="518.36" font-size="10.5" text-anchor="start" fill="#222" stroke="#222" stroke-width="0.2" >ns</text>
<polyline points="573.20,521.60 577.20,521.60 577.20,535.60 573.20,535.60" fill="none" stroke="#333" stroke-width="1"/>
<text x="579.70" y="535.20" font-size="12.0" text-anchor="start" fill="#222" stroke="#222" stroke-width="0.2" textLength="9.30" lengthAdjust="spacingAndGlyphs">**</text>
<polyline points="573.20,537.00 577.20,537.00 577.20,550.70 573.20,550.70" fill="none" stroke="#333" stroke-width="1"/>
<text x="580.70" y="551.90" font-size="12.0" text-anchor="start" fill="#222" stroke="#222" stroke-width="0.2" >*</text>
<polyline points="594.70,505.50 599.50,505.50 599.50,537.00 594.70,537.00" fill="none" stroke="#333" stroke-width="1"/>
<text x="602.40" y="522.90" font-size="12.0" text-anchor="start" fill="#222" stroke="#222" stroke-width="0.2" textLength="19.80" lengthAdjust="spacingAndGlyphs">****</text>
<polyline points="604.70,521.60 609.40,521.60 609.40,550.70 604.70,550.70" fill="none" stroke="#333" stroke-width="1"/>
<text x="610.80" y="538.76" font-size="10.5" text-anchor="start" fill="#222" stroke="#222" stroke-width="0.2" >ns</text>
<polyline points="618.70,504.10 623.50,504.10 623.50,550.70 618.70,550.70" fill="none" stroke="#333" stroke-width="1"/>
<text x="626.60" y="527.30" font-size="12.0" text-anchor="start" fill="#222" stroke="#222" stroke-width="0.2" textLength="9.60" lengthAdjust="spacingAndGlyphs">**</text>
</svg></body></html>
